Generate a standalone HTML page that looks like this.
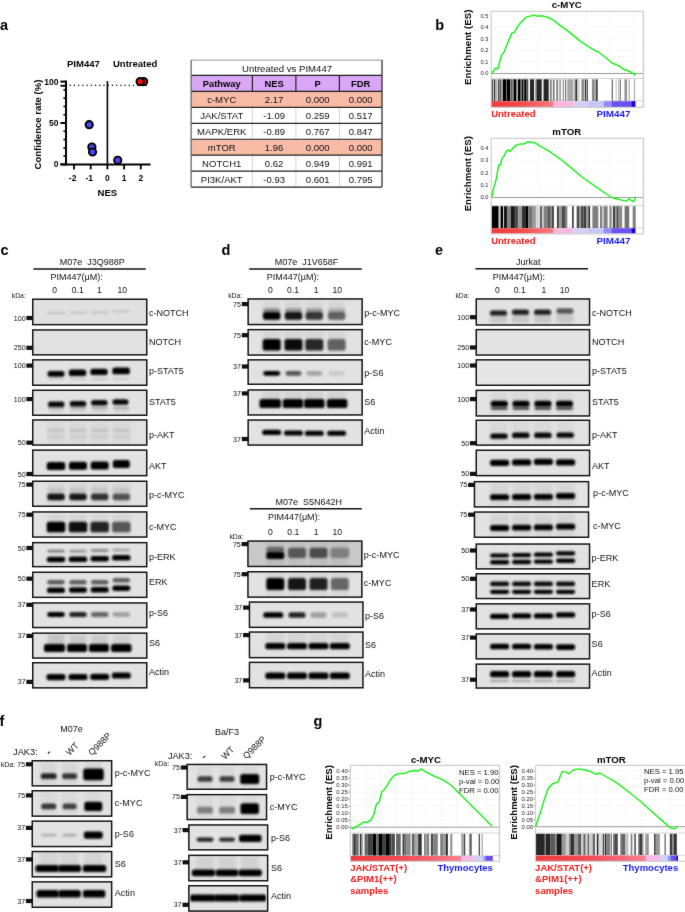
<!DOCTYPE html>
<html><head><meta charset="utf-8"><style>
html,body{margin:0;padding:0;background:#fff;}
svg{display:block;font-family:"Liberation Sans", sans-serif;will-change:transform;}
</style></head><body>
<svg width="685" height="912" viewBox="0 0 685 912">
<defs>
<filter id="b1" x="-50%" y="-100%" width="200%" height="300%"><feGaussianBlur stdDeviation="0.8"/></filter>
<filter id="b2" x="-50%" y="-100%" width="200%" height="300%"><feGaussianBlur stdDeviation="1.1"/></filter>
<filter id="b3" x="-50%" y="-100%" width="200%" height="300%"><feGaussianBlur stdDeviation="1.8"/></filter>
<filter id="b4" x="-50%" y="-100%" width="200%" height="300%"><feGaussianBlur stdDeviation="2.6"/></filter>
<linearGradient id="gb" gradientUnits="userSpaceOnUse" x1="491.2" y1="0" x2="553.6" y2="0"><stop offset="0" stop-color="#f03a3a"/><stop offset="0.45" stop-color="#f24a4a"/><stop offset="1" stop-color="#f87a7e"/></linearGradient>
<linearGradient id="gg1" gradientUnits="userSpaceOnUse" x1="350.3" y1="0" x2="461.3" y2="0"><stop offset="0" stop-color="#f03a3a"/><stop offset="0.5" stop-color="#f24c56"/><stop offset="0.8" stop-color="#f56878"/><stop offset="1" stop-color="#f88090"/></linearGradient>
<linearGradient id="gg2" gradientUnits="userSpaceOnUse" x1="535.5" y1="0" x2="645.9" y2="0"><stop offset="0" stop-color="#f03a3a"/><stop offset="0.5" stop-color="#f24c56"/><stop offset="0.8" stop-color="#f56878"/><stop offset="1" stop-color="#f88090"/></linearGradient>
<filter id="gblur" x="0" y="0" width="685" height="912" filterUnits="userSpaceOnUse" color-interpolation-filters="sRGB"><feConvolveMatrix order="3" kernelMatrix="0.00524 0.06192 0.00524 0.06192 0.73137 0.06192 0.00524 0.06192 0.00524" divisor="1" edgeMode="duplicate"/></filter>
</defs>
<g filter="url(#gblur)"><rect x="0" y="0" width="685" height="912" fill="#fff"/>
<text x="0.00" y="30.20" font-size="14.5" font-weight="bold" text-anchor="start" fill="#000" >a</text>
<text x="435.20" y="29.90" font-size="14.5" font-weight="bold" text-anchor="start" fill="#000" >b</text>
<text x="0.60" y="254.60" font-size="14.5" font-weight="bold" text-anchor="start" fill="#000" >c</text>
<text x="221.50" y="254.70" font-size="14.5" font-weight="bold" text-anchor="start" fill="#000" >d</text>
<text x="435.00" y="254.90" font-size="14.5" font-weight="bold" text-anchor="start" fill="#000" >e</text>
<text x="-0.50" y="725.90" font-size="14.5" font-weight="bold" text-anchor="start" fill="#000" >f</text>
<text x="313.60" y="725.60" font-size="14.5" font-weight="bold" text-anchor="start" fill="#000" >g</text>
<line x1="66.00" y1="80.50" x2="66.00" y2="165.40" stroke="#000" stroke-width="2" />
<line x1="60.40" y1="164.40" x2="150.50" y2="164.40" stroke="#000" stroke-width="2" />
<line x1="107.40" y1="81.00" x2="107.40" y2="164.40" stroke="#000" stroke-width="1.6" />
<line x1="60.40" y1="164.40" x2="66.00" y2="164.40" stroke="#000" stroke-width="2" />
<line x1="63.40" y1="156.12" x2="66.00" y2="156.12" stroke="#000" stroke-width="1.6" />
<line x1="63.40" y1="147.84" x2="66.00" y2="147.84" stroke="#000" stroke-width="1.6" />
<line x1="63.40" y1="139.56" x2="66.00" y2="139.56" stroke="#000" stroke-width="1.6" />
<line x1="63.40" y1="131.28" x2="66.00" y2="131.28" stroke="#000" stroke-width="1.6" />
<line x1="60.40" y1="123.00" x2="66.00" y2="123.00" stroke="#000" stroke-width="2" />
<line x1="63.40" y1="114.72" x2="66.00" y2="114.72" stroke="#000" stroke-width="1.6" />
<line x1="63.40" y1="106.44" x2="66.00" y2="106.44" stroke="#000" stroke-width="1.6" />
<line x1="63.40" y1="98.16" x2="66.00" y2="98.16" stroke="#000" stroke-width="1.6" />
<line x1="63.40" y1="89.88" x2="66.00" y2="89.88" stroke="#000" stroke-width="1.6" />
<line x1="60.40" y1="81.60" x2="66.00" y2="81.60" stroke="#000" stroke-width="2" />
<line x1="74.00" y1="164.40" x2="74.00" y2="169.40" stroke="#000" stroke-width="1.8" />
<line x1="90.70" y1="164.40" x2="90.70" y2="169.40" stroke="#000" stroke-width="1.8" />
<line x1="107.40" y1="164.40" x2="107.40" y2="169.40" stroke="#000" stroke-width="1.8" />
<line x1="124.10" y1="164.40" x2="124.10" y2="169.40" stroke="#000" stroke-width="1.8" />
<line x1="140.80" y1="164.40" x2="140.80" y2="169.40" stroke="#000" stroke-width="1.8" />
<line x1="69.6" y1="85.4" x2="147" y2="85.4" stroke="#000" stroke-width="1.4" stroke-dasharray="1.25 2.97"/>
<line x1="60.40" y1="85.80" x2="66.00" y2="85.80" stroke="#000" stroke-width="1.8" />
<text x="58.50" y="167.40" font-size="8.5" font-weight="bold" text-anchor="end" fill="#000" >0</text>
<text x="58.50" y="126.00" font-size="8.5" font-weight="bold" text-anchor="end" fill="#000" >50</text>
<text x="58.50" y="84.60" font-size="8.5" font-weight="bold" text-anchor="end" fill="#000" >100</text>
<text x="72.60" y="181.20" font-size="8.5" font-weight="bold" text-anchor="middle" fill="#000" >-2</text>
<text x="89.30" y="181.20" font-size="8.5" font-weight="bold" text-anchor="middle" fill="#000" >-1</text>
<text x="107.40" y="181.20" font-size="8.5" font-weight="bold" text-anchor="middle" fill="#000" >0</text>
<text x="124.10" y="181.20" font-size="8.5" font-weight="bold" text-anchor="middle" fill="#000" >1</text>
<text x="140.80" y="181.20" font-size="8.5" font-weight="bold" text-anchor="middle" fill="#000" >2</text>
<text x="107.40" y="195.60" font-size="9.6" font-weight="bold" text-anchor="middle" fill="#000" >NES</text>
<text x="67.00" y="67.00" font-size="9.5" font-weight="bold" text-anchor="start" fill="#000" >PIM447</text>
<text x="113.00" y="67.00" font-size="9.5" font-weight="bold" text-anchor="start" fill="#000" >Untreated</text>
<text x="0" y="0" font-size="9.6" font-weight="bold" text-anchor="middle" transform="translate(41.3,124.5) rotate(-90)">Confidence rate (%)</text>
<circle cx="89.20" cy="124.66" r="3.65" fill="#4646f6" stroke="#000" stroke-width="1.9"/>
<circle cx="91.87" cy="147.01" r="3.65" fill="#4646f6" stroke="#000" stroke-width="1.9"/>
<circle cx="92.54" cy="151.98" r="3.65" fill="#4646f6" stroke="#000" stroke-width="1.9"/>
<circle cx="117.75" cy="160.26" r="3.65" fill="#4646f6" stroke="#000" stroke-width="1.9"/>
<circle cx="143.64" cy="81.60" r="3.65" fill="#f01010" stroke="#000" stroke-width="1.9"/>
<circle cx="140.13" cy="81.60" r="3.65" fill="#f01010" stroke="#000" stroke-width="1.9"/>
<rect x="191.10" y="60.10" width="190.90" height="127.00" fill="#fff" />
<rect x="191.10" y="75.40" width="190.90" height="16.00" fill="#daa6f6" />
<rect x="191.10" y="91.40" width="190.90" height="15.95" fill="#f8bba6" />
<rect x="191.10" y="139.25" width="190.90" height="15.95" fill="#f8bba6" />
<line x1="252.40" y1="107.35" x2="252.40" y2="123.30" stroke="#d4d4d4" stroke-width="1" />
<line x1="252.40" y1="123.30" x2="252.40" y2="139.25" stroke="#d4d4d4" stroke-width="1" />
<line x1="252.40" y1="155.20" x2="252.40" y2="171.15" stroke="#d4d4d4" stroke-width="1" />
<line x1="252.40" y1="171.15" x2="252.40" y2="187.10" stroke="#d4d4d4" stroke-width="1" />
<line x1="295.90" y1="107.35" x2="295.90" y2="123.30" stroke="#d4d4d4" stroke-width="1" />
<line x1="295.90" y1="123.30" x2="295.90" y2="139.25" stroke="#d4d4d4" stroke-width="1" />
<line x1="295.90" y1="155.20" x2="295.90" y2="171.15" stroke="#d4d4d4" stroke-width="1" />
<line x1="295.90" y1="171.15" x2="295.90" y2="187.10" stroke="#d4d4d4" stroke-width="1" />
<line x1="339.40" y1="107.35" x2="339.40" y2="123.30" stroke="#d4d4d4" stroke-width="1" />
<line x1="339.40" y1="123.30" x2="339.40" y2="139.25" stroke="#d4d4d4" stroke-width="1" />
<line x1="339.40" y1="155.20" x2="339.40" y2="171.15" stroke="#d4d4d4" stroke-width="1" />
<line x1="339.40" y1="171.15" x2="339.40" y2="187.10" stroke="#d4d4d4" stroke-width="1" />
<line x1="252.40" y1="75.40" x2="252.40" y2="91.40" stroke="#222" stroke-width="1.2" />
<line x1="295.90" y1="75.40" x2="295.90" y2="91.40" stroke="#222" stroke-width="1.2" />
<line x1="339.40" y1="75.40" x2="339.40" y2="91.40" stroke="#222" stroke-width="1.2" />
<line x1="191.10" y1="60.10" x2="382.00" y2="60.10" stroke="#aaa" stroke-width="1.2" />
<line x1="191.10" y1="75.40" x2="382.00" y2="75.40" stroke="#222" stroke-width="1.2" />
<line x1="191.10" y1="91.40" x2="382.00" y2="91.40" stroke="#222" stroke-width="1.2" />
<line x1="191.10" y1="107.35" x2="382.00" y2="107.35" stroke="#222" stroke-width="1.2" />
<line x1="191.10" y1="123.30" x2="382.00" y2="123.30" stroke="#222" stroke-width="1.2" />
<line x1="191.10" y1="139.25" x2="382.00" y2="139.25" stroke="#222" stroke-width="1.2" />
<line x1="191.10" y1="155.20" x2="382.00" y2="155.20" stroke="#222" stroke-width="1.2" />
<line x1="191.10" y1="171.15" x2="382.00" y2="171.15" stroke="#222" stroke-width="1.2" />
<line x1="191.10" y1="187.10" x2="382.00" y2="187.10" stroke="#222" stroke-width="1.2" />
<line x1="191.10" y1="60.10" x2="191.10" y2="187.10" stroke="#666" stroke-width="1.3" />
<line x1="382.00" y1="60.10" x2="382.00" y2="187.10" stroke="#333" stroke-width="1.3" />
<text x="287.05" y="71.90" font-size="9.6" text-anchor="middle" fill="#111" >Untreated vs PIM447</text>
<text x="221.75" y="87.40" font-size="9.35" font-weight="bold" text-anchor="middle" fill="#000" >Pathway</text>
<text x="274.15" y="87.40" font-size="9.35" font-weight="bold" text-anchor="middle" fill="#000" >NES</text>
<text x="317.65" y="87.40" font-size="9.35" font-weight="bold" text-anchor="middle" fill="#000" >P</text>
<text x="360.70" y="87.40" font-size="9.35" font-weight="bold" text-anchor="middle" fill="#000" >FDR</text>
<text x="221.75" y="103.40" font-size="9.55" text-anchor="middle" fill="#111" >c-MYC</text>
<text x="274.15" y="103.40" font-size="9.55" text-anchor="middle" fill="#111" >2.17</text>
<text x="317.65" y="103.40" font-size="9.55" text-anchor="middle" fill="#111" >0.000</text>
<text x="360.70" y="103.40" font-size="9.55" text-anchor="middle" fill="#111" >0.000</text>
<text x="221.75" y="119.35" font-size="9.55" text-anchor="middle" fill="#111" >JAK/STAT</text>
<text x="274.15" y="119.35" font-size="9.55" text-anchor="middle" fill="#111" >-1.09</text>
<text x="317.65" y="119.35" font-size="9.55" text-anchor="middle" fill="#111" >0.259</text>
<text x="360.70" y="119.35" font-size="9.55" text-anchor="middle" fill="#111" >0.517</text>
<text x="221.75" y="135.30" font-size="9.55" text-anchor="middle" fill="#111" >MAPK/ERK</text>
<text x="274.15" y="135.30" font-size="9.55" text-anchor="middle" fill="#111" >-0.89</text>
<text x="317.65" y="135.30" font-size="9.55" text-anchor="middle" fill="#111" >0.767</text>
<text x="360.70" y="135.30" font-size="9.55" text-anchor="middle" fill="#111" >0.847</text>
<text x="221.75" y="151.25" font-size="9.55" text-anchor="middle" fill="#111" >mTOR</text>
<text x="274.15" y="151.25" font-size="9.55" text-anchor="middle" fill="#111" >1.96</text>
<text x="317.65" y="151.25" font-size="9.55" text-anchor="middle" fill="#111" >0.000</text>
<text x="360.70" y="151.25" font-size="9.55" text-anchor="middle" fill="#111" >0.000</text>
<text x="221.75" y="167.20" font-size="9.55" text-anchor="middle" fill="#111" >NOTCH1</text>
<text x="274.15" y="167.20" font-size="9.55" text-anchor="middle" fill="#111" >0.62</text>
<text x="317.65" y="167.20" font-size="9.55" text-anchor="middle" fill="#111" >0.949</text>
<text x="360.70" y="167.20" font-size="9.55" text-anchor="middle" fill="#111" >0.991</text>
<text x="221.75" y="183.15" font-size="9.55" text-anchor="middle" fill="#111" >PI3K/AKT</text>
<text x="274.15" y="183.15" font-size="9.55" text-anchor="middle" fill="#111" >-0.93</text>
<text x="317.65" y="183.15" font-size="9.55" text-anchor="middle" fill="#111" >0.601</text>
<text x="360.70" y="183.15" font-size="9.55" text-anchor="middle" fill="#111" >0.795</text>
<rect x="491.20" y="11.30" width="152.20" height="96.00" fill="#fff" />
<line x1="491.20" y1="61.96" x2="643.40" y2="61.96" stroke="#eeeeee" stroke-width="0.8" stroke-dasharray="1 1"/>
<line x1="491.20" y1="50.42" x2="643.40" y2="50.42" stroke="#eeeeee" stroke-width="0.8" stroke-dasharray="1 1"/>
<line x1="491.20" y1="38.88" x2="643.40" y2="38.88" stroke="#eeeeee" stroke-width="0.8" stroke-dasharray="1 1"/>
<line x1="491.20" y1="27.34" x2="643.40" y2="27.34" stroke="#eeeeee" stroke-width="0.8" stroke-dasharray="1 1"/>
<line x1="491.20" y1="15.80" x2="643.40" y2="15.80" stroke="#eeeeee" stroke-width="0.8" stroke-dasharray="1 1"/>
<line x1="515.30" y1="11.30" x2="515.30" y2="78.30" stroke="#eeeeee" stroke-width="0.8" stroke-dasharray="1 1"/>
<line x1="538.50" y1="11.30" x2="538.50" y2="78.30" stroke="#eeeeee" stroke-width="0.8" stroke-dasharray="1 1"/>
<line x1="562.20" y1="11.30" x2="562.20" y2="78.30" stroke="#eeeeee" stroke-width="0.8" stroke-dasharray="1 1"/>
<line x1="586.50" y1="11.30" x2="586.50" y2="78.30" stroke="#eeeeee" stroke-width="0.8" stroke-dasharray="1 1"/>
<line x1="610.30" y1="11.30" x2="610.30" y2="78.30" stroke="#eeeeee" stroke-width="0.8" stroke-dasharray="1 1"/>
<line x1="634.20" y1="11.30" x2="634.20" y2="78.30" stroke="#eeeeee" stroke-width="0.8" stroke-dasharray="1 1"/>
<line x1="491.20" y1="73.50" x2="643.40" y2="73.50" stroke="#9a9a9a" stroke-width="1" />
<line x1="491.20" y1="78.50" x2="643.40" y2="78.50" stroke="#d4d4d4" stroke-width="1" />
<line x1="491.20" y1="100.90" x2="643.40" y2="100.90" stroke="#d4d4d4" stroke-width="1" />
<rect x="491.50" y="79.30" width="1.20" height="21.70" fill="rgb(0,0,0)" />
<rect x="493.80" y="79.30" width="1.00" height="21.70" fill="rgb(0,0,0)" />
<rect x="495.00" y="79.30" width="2.30" height="21.70" fill="rgb(178,178,178)" />
<rect x="497.90" y="79.30" width="1.20" height="21.70" fill="rgb(77,77,77)" />
<rect x="499.10" y="79.30" width="1.20" height="21.70" fill="rgb(128,128,128)" />
<rect x="500.30" y="79.30" width="1.10" height="21.70" fill="rgb(38,38,38)" />
<rect x="502.60" y="79.30" width="3.50" height="21.70" fill="rgb(0,0,0)" />
<rect x="506.10" y="79.30" width="0.60" height="21.70" fill="rgb(128,128,128)" />
<rect x="506.70" y="79.30" width="3.50" height="21.70" fill="rgb(0,0,0)" />
<rect x="510.20" y="79.30" width="1.20" height="21.70" fill="rgb(128,128,128)" />
<rect x="511.40" y="79.30" width="1.10" height="21.70" fill="rgb(25,25,25)" />
<rect x="512.50" y="79.30" width="1.20" height="21.70" fill="rgb(128,128,128)" />
<rect x="513.70" y="79.30" width="2.30" height="21.70" fill="rgb(0,0,0)" />
<rect x="516.00" y="79.30" width="1.20" height="21.70" fill="rgb(128,128,128)" />
<rect x="517.80" y="79.30" width="2.90" height="21.70" fill="rgb(0,0,0)" />
<rect x="520.70" y="79.30" width="1.20" height="21.70" fill="rgb(128,128,128)" />
<rect x="521.90" y="79.30" width="1.10" height="21.70" fill="rgb(0,0,0)" />
<rect x="523.00" y="79.30" width="1.20" height="21.70" fill="rgb(128,128,128)" />
<rect x="524.20" y="79.30" width="2.30" height="21.70" fill="rgb(0,0,0)" />
<rect x="526.50" y="79.30" width="1.80" height="21.70" fill="rgb(77,77,77)" />
<rect x="530.00" y="79.30" width="4.10" height="21.70" fill="rgb(38,38,38)" />
<rect x="535.30" y="79.30" width="1.20" height="21.70" fill="rgb(128,128,128)" />
<rect x="536.50" y="79.30" width="5.20" height="21.70" fill="rgb(38,38,38)" />
<rect x="543.50" y="79.30" width="5.20" height="21.70" fill="rgb(38,38,38)" />
<rect x="549.90" y="79.30" width="1.80" height="21.70" fill="rgb(128,128,128)" />
<rect x="552.80" y="79.30" width="1.80" height="21.70" fill="rgb(128,128,128)" />
<rect x="556.30" y="79.30" width="1.80" height="21.70" fill="rgb(128,128,128)" />
<rect x="559.20" y="79.30" width="1.80" height="21.70" fill="rgb(166,166,166)" />
<rect x="562.70" y="79.30" width="1.20" height="21.70" fill="rgb(140,140,140)" />
<rect x="565.10" y="79.30" width="1.10" height="21.70" fill="rgb(102,102,102)" />
<rect x="567.30" y="79.30" width="4.70" height="21.70" fill="rgb(166,166,166)" />
<rect x="572.60" y="79.30" width="0.60" height="21.70" fill="rgb(51,51,51)" />
<rect x="574.40" y="79.30" width="0.60" height="21.70" fill="rgb(153,153,153)" />
<rect x="575.30" y="79.30" width="2.00" height="21.70" fill="rgb(51,51,51)" />
<rect x="577.50" y="79.30" width="2.00" height="21.70" fill="rgb(204,204,204)" />
<rect x="581.40" y="79.30" width="2.90" height="21.70" fill="rgb(140,140,140)" />
<rect x="584.90" y="79.30" width="1.10" height="21.70" fill="rgb(51,51,51)" />
<rect x="586.60" y="79.30" width="1.20" height="21.70" fill="rgb(51,51,51)" />
<rect x="591.90" y="79.30" width="2.90" height="21.70" fill="rgb(140,140,140)" />
<rect x="595.60" y="79.30" width="2.10" height="21.70" fill="rgb(64,64,64)" />
<rect x="611.70" y="79.30" width="1.20" height="21.70" fill="rgb(102,102,102)" />
<rect x="615.80" y="79.30" width="0.60" height="21.70" fill="rgb(153,153,153)" />
<rect x="618.20" y="79.30" width="0.60" height="21.70" fill="rgb(153,153,153)" />
<rect x="619.70" y="79.30" width="1.10" height="21.70" fill="rgb(102,102,102)" />
<rect x="624.00" y="79.30" width="0.60" height="21.70" fill="rgb(153,153,153)" />
<rect x="625.20" y="79.30" width="1.70" height="21.70" fill="rgb(128,128,128)" />
<rect x="628.60" y="79.30" width="1.20" height="21.70" fill="rgb(166,166,166)" />
<rect x="633.90" y="79.30" width="1.10" height="21.70" fill="rgb(166,166,166)" />
<rect x="490.90" y="101.20" width="62.70" height="5.90" fill="url(#gb)" />
<rect x="553.60" y="101.20" width="20.00" height="5.90" fill="#f8b8e0" />
<rect x="573.60" y="101.20" width="14.40" height="5.90" fill="#d2d2f6" />
<rect x="588.00" y="101.20" width="15.50" height="5.90" fill="#c9c6f6" />
<rect x="603.50" y="101.20" width="7.80" height="5.90" fill="#8890f8" />
<rect x="611.30" y="101.20" width="20.00" height="5.90" fill="#6a50f0" />
<rect x="631.30" y="101.20" width="4.20" height="5.90" fill="#2000d0" />
<line x1="491.20" y1="11.30" x2="643.40" y2="11.30" stroke="#cfcfcf" stroke-width="1.2" />
<line x1="491.20" y1="11.30" x2="491.20" y2="107.30" stroke="#cfcfcf" stroke-width="1.2" />
<line x1="491.20" y1="107.30" x2="643.40" y2="107.30" stroke="#cfcfcf" stroke-width="1.2" />
<line x1="643.40" y1="11.30" x2="643.40" y2="107.30" stroke="#cfcfcf" stroke-width="1.5" />
<polyline points="491.7,73.6 493.4,71.0 495.2,68.3 497.8,68.7 499.6,62.2 501.7,54.3 503.4,53.4 506.6,45.5 509.2,39.4 511.8,33.3 514.5,32.4 517.1,27.2 520.6,22.8 524.1,19.3 526.7,17.0 530.2,16.1 534.1,14.9 537.2,16.3 541.6,15.8 546.9,17.0 552.1,19.3 560.0,25.4 569.1,31.9 580.1,41.1 592.8,49.3 598.3,52.0 605.6,57.5 612.0,63.0 618.4,65.7 623.9,69.3 630.3,71.7 634.8,74.8 635.4,73.0" fill="none" stroke="#1cf01c" stroke-width="1.45" stroke-linejoin="round"/>
<text x="488.50" y="75.38" font-size="5.7" text-anchor="end" fill="#222" >0.0</text>
<text x="488.50" y="63.84" font-size="5.7" text-anchor="end" fill="#222" >0.1</text>
<text x="488.50" y="52.30" font-size="5.7" text-anchor="end" fill="#222" >0.2</text>
<text x="488.50" y="40.76" font-size="5.7" text-anchor="end" fill="#222" >0.3</text>
<text x="488.50" y="29.22" font-size="5.7" text-anchor="end" fill="#222" >0.4</text>
<text x="488.50" y="17.68" font-size="5.7" text-anchor="end" fill="#222" >0.5</text>
<text x="566.80" y="8.30" font-size="9.7" font-weight="bold" text-anchor="middle" fill="#000" >c-MYC</text>
<text x="0" y="0" font-size="9.7" font-weight="bold" text-anchor="middle" transform="translate(471.40,47.30) rotate(-90)">Enrichment (ES)</text>
<text x="491.20" y="117.00" font-size="9.5" font-weight="bold" text-anchor="start" fill="#f01a1a" >Untreated</text>
<text x="630.50" y="116.80" font-size="9.9" font-weight="bold" text-anchor="end" fill="#1a1af0" >PIM447</text>
<rect x="491.20" y="138.40" width="152.20" height="95.40" fill="#fff" />
<line x1="491.20" y1="185.20" x2="643.40" y2="185.20" stroke="#eeeeee" stroke-width="0.8" stroke-dasharray="1 1"/>
<line x1="491.20" y1="172.90" x2="643.40" y2="172.90" stroke="#eeeeee" stroke-width="0.8" stroke-dasharray="1 1"/>
<line x1="491.20" y1="160.60" x2="643.40" y2="160.60" stroke="#eeeeee" stroke-width="0.8" stroke-dasharray="1 1"/>
<line x1="491.20" y1="148.30" x2="643.40" y2="148.30" stroke="#eeeeee" stroke-width="0.8" stroke-dasharray="1 1"/>
<line x1="515.30" y1="138.40" x2="515.30" y2="205.20" stroke="#eeeeee" stroke-width="0.8" stroke-dasharray="1 1"/>
<line x1="538.50" y1="138.40" x2="538.50" y2="205.20" stroke="#eeeeee" stroke-width="0.8" stroke-dasharray="1 1"/>
<line x1="562.20" y1="138.40" x2="562.20" y2="205.20" stroke="#eeeeee" stroke-width="0.8" stroke-dasharray="1 1"/>
<line x1="586.50" y1="138.40" x2="586.50" y2="205.20" stroke="#eeeeee" stroke-width="0.8" stroke-dasharray="1 1"/>
<line x1="610.30" y1="138.40" x2="610.30" y2="205.20" stroke="#eeeeee" stroke-width="0.8" stroke-dasharray="1 1"/>
<line x1="634.20" y1="138.40" x2="634.20" y2="205.20" stroke="#eeeeee" stroke-width="0.8" stroke-dasharray="1 1"/>
<line x1="491.20" y1="197.50" x2="643.40" y2="197.50" stroke="#9a9a9a" stroke-width="1" />
<line x1="491.20" y1="205.40" x2="643.40" y2="205.40" stroke="#d4d4d4" stroke-width="1" />
<line x1="491.20" y1="227.90" x2="643.40" y2="227.90" stroke="#d4d4d4" stroke-width="1" />
<rect x="491.50" y="206.20" width="7.20" height="21.80" fill="rgb(0,0,0)" />
<rect x="498.70" y="206.20" width="1.90" height="21.80" fill="rgb(204,204,204)" />
<rect x="500.60" y="206.20" width="2.40" height="21.80" fill="rgb(0,0,0)" />
<rect x="503.80" y="206.20" width="3.50" height="21.80" fill="rgb(25,25,25)" />
<rect x="507.30" y="206.20" width="3.50" height="21.80" fill="rgb(128,128,128)" />
<rect x="510.80" y="206.20" width="4.10" height="21.80" fill="rgb(25,25,25)" />
<rect x="514.90" y="206.20" width="3.50" height="21.80" fill="rgb(77,77,77)" />
<rect x="518.40" y="206.20" width="3.50" height="21.80" fill="rgb(153,153,153)" />
<rect x="521.90" y="206.20" width="4.10" height="21.80" fill="rgb(51,51,51)" />
<rect x="526.00" y="206.20" width="2.30" height="21.80" fill="rgb(0,0,0)" />
<rect x="528.30" y="206.20" width="3.70" height="21.80" fill="rgb(115,115,115)" />
<rect x="532.00" y="206.20" width="3.90" height="21.80" fill="rgb(153,153,153)" />
<rect x="535.90" y="206.20" width="4.10" height="21.80" fill="rgb(217,217,217)" />
<rect x="540.00" y="206.20" width="2.30" height="21.80" fill="rgb(102,102,102)" />
<rect x="543.50" y="206.20" width="4.10" height="21.80" fill="rgb(128,128,128)" />
<rect x="547.60" y="206.20" width="2.30" height="21.80" fill="rgb(77,77,77)" />
<rect x="549.90" y="206.20" width="1.80" height="21.80" fill="rgb(128,128,128)" />
<rect x="551.70" y="206.20" width="2.30" height="21.80" fill="rgb(77,77,77)" />
<rect x="556.90" y="206.20" width="2.30" height="21.80" fill="rgb(77,77,77)" />
<rect x="559.20" y="206.20" width="2.40" height="21.80" fill="rgb(153,153,153)" />
<rect x="561.60" y="206.20" width="3.40" height="21.80" fill="rgb(77,77,77)" />
<rect x="565.00" y="206.20" width="2.30" height="21.80" fill="rgb(128,128,128)" />
<rect x="572.00" y="206.20" width="1.80" height="21.80" fill="rgb(77,77,77)" />
<rect x="576.70" y="206.20" width="2.90" height="21.80" fill="rgb(77,77,77)" />
<rect x="579.60" y="206.20" width="1.20" height="21.80" fill="rgb(153,153,153)" />
<rect x="580.80" y="206.20" width="2.90" height="21.80" fill="rgb(77,77,77)" />
<rect x="583.70" y="206.20" width="2.30" height="21.80" fill="rgb(64,64,64)" />
<rect x="586.00" y="206.20" width="2.40" height="21.80" fill="rgb(153,153,153)" />
<rect x="588.40" y="206.20" width="1.70" height="21.80" fill="rgb(51,51,51)" />
<rect x="592.40" y="206.20" width="5.90" height="21.80" fill="rgb(128,128,128)" />
<rect x="600.00" y="206.20" width="2.40" height="21.80" fill="rgb(128,128,128)" />
<rect x="603.50" y="206.20" width="4.10" height="21.80" fill="rgb(128,128,128)" />
<rect x="609.40" y="206.20" width="2.30" height="21.80" fill="rgb(140,140,140)" />
<rect x="612.90" y="206.20" width="2.30" height="21.80" fill="rgb(64,64,64)" />
<rect x="615.20" y="206.20" width="1.20" height="21.80" fill="rgb(153,153,153)" />
<rect x="616.40" y="206.20" width="2.30" height="21.80" fill="rgb(77,77,77)" />
<rect x="618.70" y="206.20" width="3.50" height="21.80" fill="rgb(140,140,140)" />
<rect x="624.60" y="206.20" width="4.60" height="21.80" fill="rgb(115,115,115)" />
<rect x="632.70" y="206.20" width="3.00" height="21.80" fill="rgb(128,128,128)" />
<rect x="490.90" y="228.20" width="62.70" height="5.60" fill="url(#gb)" />
<rect x="553.60" y="228.20" width="20.00" height="5.60" fill="#f8b8e0" />
<rect x="573.60" y="228.20" width="14.40" height="5.60" fill="#d2d2f6" />
<rect x="588.00" y="228.20" width="15.50" height="5.60" fill="#c9c6f6" />
<rect x="603.50" y="228.20" width="7.80" height="5.60" fill="#8890f8" />
<rect x="611.30" y="228.20" width="20.00" height="5.60" fill="#6a50f0" />
<rect x="631.30" y="228.20" width="4.20" height="5.60" fill="#2000d0" />
<line x1="491.20" y1="138.40" x2="643.40" y2="138.40" stroke="#cfcfcf" stroke-width="1.2" />
<line x1="491.20" y1="138.40" x2="491.20" y2="233.80" stroke="#cfcfcf" stroke-width="1.2" />
<line x1="491.20" y1="233.80" x2="643.40" y2="233.80" stroke="#cfcfcf" stroke-width="1.2" />
<line x1="643.40" y1="138.40" x2="643.40" y2="233.80" stroke="#cfcfcf" stroke-width="1.5" />
<polyline points="491.7,197.3 493.4,188.6 496.1,179.8 498.7,164.9 500.4,164.9 502.2,157.9 503.9,156.2 506.6,150.9 508.3,150.0 510.1,151.4 512.7,148.3 516.2,145.1 520.6,143.9 524.1,143.9 527.6,141.8 531.1,142.2 535.5,143.0 539.9,146.2 548.6,150.9 560.0,158.8 569.1,166.1 581.9,177.0 596.5,187.1 605.6,193.5 612.9,198.0 618.4,199.3 625.7,201.1 629.3,198.9 633.0,201.7 634.8,199.9 635.7,196.8" fill="none" stroke="#1cf01c" stroke-width="1.45" stroke-linejoin="round"/>
<text x="488.50" y="199.38" font-size="5.7" text-anchor="end" fill="#222" >0.0</text>
<text x="488.50" y="187.08" font-size="5.7" text-anchor="end" fill="#222" >0.1</text>
<text x="488.50" y="174.78" font-size="5.7" text-anchor="end" fill="#222" >0.2</text>
<text x="488.50" y="162.48" font-size="5.7" text-anchor="end" fill="#222" >0.3</text>
<text x="488.50" y="150.18" font-size="5.7" text-anchor="end" fill="#222" >0.4</text>
<text x="566.80" y="135.00" font-size="9.7" font-weight="bold" text-anchor="middle" fill="#000" >mTOR</text>
<text x="0" y="0" font-size="9.7" font-weight="bold" text-anchor="middle" transform="translate(471.40,173.70) rotate(-90)">Enrichment (ES)</text>
<text x="491.20" y="243.80" font-size="9.5" font-weight="bold" text-anchor="start" fill="#f01a1a" >Untreated</text>
<text x="630.50" y="243.60" font-size="9.9" font-weight="bold" text-anchor="end" fill="#1a1af0" >PIM447</text>
<rect x="350.30" y="765.40" width="149.20" height="95.90" fill="#fff" />
<line x1="350.30" y1="820.19" x2="499.50" y2="820.19" stroke="#eeeeee" stroke-width="0.8" stroke-dasharray="1 1"/>
<line x1="350.30" y1="813.18" x2="499.50" y2="813.18" stroke="#eeeeee" stroke-width="0.8" stroke-dasharray="1 1"/>
<line x1="350.30" y1="806.17" x2="499.50" y2="806.17" stroke="#eeeeee" stroke-width="0.8" stroke-dasharray="1 1"/>
<line x1="350.30" y1="799.16" x2="499.50" y2="799.16" stroke="#eeeeee" stroke-width="0.8" stroke-dasharray="1 1"/>
<line x1="350.30" y1="792.15" x2="499.50" y2="792.15" stroke="#eeeeee" stroke-width="0.8" stroke-dasharray="1 1"/>
<line x1="350.30" y1="785.14" x2="499.50" y2="785.14" stroke="#eeeeee" stroke-width="0.8" stroke-dasharray="1 1"/>
<line x1="350.30" y1="778.13" x2="499.50" y2="778.13" stroke="#eeeeee" stroke-width="0.8" stroke-dasharray="1 1"/>
<line x1="350.30" y1="771.12" x2="499.50" y2="771.12" stroke="#eeeeee" stroke-width="0.8" stroke-dasharray="1 1"/>
<line x1="365.50" y1="765.40" x2="365.50" y2="832.80" stroke="#eeeeee" stroke-width="0.8" stroke-dasharray="1 1"/>
<line x1="380.70" y1="765.40" x2="380.70" y2="832.80" stroke="#eeeeee" stroke-width="0.8" stroke-dasharray="1 1"/>
<line x1="396.00" y1="765.40" x2="396.00" y2="832.80" stroke="#eeeeee" stroke-width="0.8" stroke-dasharray="1 1"/>
<line x1="411.30" y1="765.40" x2="411.30" y2="832.80" stroke="#eeeeee" stroke-width="0.8" stroke-dasharray="1 1"/>
<line x1="426.30" y1="765.40" x2="426.30" y2="832.80" stroke="#eeeeee" stroke-width="0.8" stroke-dasharray="1 1"/>
<line x1="441.50" y1="765.40" x2="441.50" y2="832.80" stroke="#eeeeee" stroke-width="0.8" stroke-dasharray="1 1"/>
<line x1="456.50" y1="765.40" x2="456.50" y2="832.80" stroke="#eeeeee" stroke-width="0.8" stroke-dasharray="1 1"/>
<line x1="472.20" y1="765.40" x2="472.20" y2="832.80" stroke="#eeeeee" stroke-width="0.8" stroke-dasharray="1 1"/>
<line x1="486.50" y1="765.40" x2="486.50" y2="832.80" stroke="#eeeeee" stroke-width="0.8" stroke-dasharray="1 1"/>
<line x1="350.30" y1="827.20" x2="499.50" y2="827.20" stroke="#9a9a9a" stroke-width="1" />
<line x1="350.30" y1="833.00" x2="499.50" y2="833.00" stroke="#d4d4d4" stroke-width="1" />
<line x1="350.30" y1="855.70" x2="499.50" y2="855.70" stroke="#d4d4d4" stroke-width="1" />
<rect x="352.30" y="833.80" width="1.70" height="21.70" fill="rgb(115,115,115)" />
<rect x="354.00" y="833.80" width="1.80" height="21.70" fill="rgb(51,51,51)" />
<rect x="355.80" y="833.80" width="2.90" height="21.70" fill="rgb(115,115,115)" />
<rect x="359.80" y="833.80" width="1.80" height="21.70" fill="rgb(51,51,51)" />
<rect x="361.60" y="833.80" width="1.20" height="21.70" fill="rgb(153,153,153)" />
<rect x="364.50" y="833.80" width="2.90" height="21.70" fill="rgb(102,102,102)" />
<rect x="367.40" y="833.80" width="5.30" height="21.70" fill="rgb(64,64,64)" />
<rect x="372.70" y="833.80" width="3.50" height="21.70" fill="rgb(0,0,0)" />
<rect x="376.20" y="833.80" width="2.30" height="21.70" fill="rgb(102,102,102)" />
<rect x="378.50" y="833.80" width="3.50" height="21.70" fill="rgb(0,0,0)" />
<rect x="382.00" y="833.80" width="3.50" height="21.70" fill="rgb(64,64,64)" />
<rect x="385.50" y="833.80" width="3.50" height="21.70" fill="rgb(0,0,0)" />
<rect x="389.00" y="833.80" width="2.40" height="21.70" fill="rgb(51,51,51)" />
<rect x="391.40" y="833.80" width="3.50" height="21.70" fill="rgb(77,77,77)" />
<rect x="396.10" y="833.80" width="4.60" height="21.70" fill="rgb(102,102,102)" />
<rect x="402.50" y="833.80" width="1.70" height="21.70" fill="rgb(64,64,64)" />
<rect x="404.20" y="833.80" width="2.40" height="21.70" fill="rgb(102,102,102)" />
<rect x="406.60" y="833.80" width="4.00" height="21.70" fill="rgb(140,140,140)" />
<rect x="411.80" y="833.80" width="2.90" height="21.70" fill="rgb(102,102,102)" />
<rect x="414.70" y="833.80" width="3.50" height="21.70" fill="rgb(166,166,166)" />
<rect x="418.20" y="833.80" width="3.50" height="21.70" fill="rgb(51,51,51)" />
<rect x="424.00" y="833.80" width="1.00" height="21.70" fill="rgb(128,128,128)" />
<rect x="425.00" y="833.80" width="1.80" height="21.70" fill="rgb(153,153,153)" />
<rect x="426.80" y="833.80" width="2.30" height="21.70" fill="rgb(128,128,128)" />
<rect x="430.80" y="833.80" width="2.40" height="21.70" fill="rgb(77,77,77)" />
<rect x="433.20" y="833.80" width="4.60" height="21.70" fill="rgb(128,128,128)" />
<rect x="440.20" y="833.80" width="3.50" height="21.70" fill="rgb(128,128,128)" />
<rect x="443.70" y="833.80" width="2.30" height="21.70" fill="rgb(153,153,153)" />
<rect x="446.00" y="833.80" width="1.80" height="21.70" fill="rgb(38,38,38)" />
<rect x="450.10" y="833.80" width="2.30" height="21.70" fill="rgb(153,153,153)" />
<rect x="461.20" y="833.80" width="1.80" height="21.70" fill="rgb(166,166,166)" />
<rect x="463.50" y="833.80" width="1.80" height="21.70" fill="rgb(77,77,77)" />
<rect x="468.80" y="833.80" width="1.20" height="21.70" fill="rgb(166,166,166)" />
<rect x="470.00" y="833.80" width="1.70" height="21.70" fill="rgb(89,89,89)" />
<rect x="478.70" y="833.80" width="1.20" height="21.70" fill="rgb(64,64,64)" />
<rect x="481.60" y="833.80" width="1.20" height="21.70" fill="rgb(166,166,166)" />
<rect x="350.30" y="856.00" width="111.00" height="5.20" fill="url(#gg1)" />
<rect x="461.30" y="856.00" width="12.30" height="5.20" fill="#f8b8e8" />
<rect x="473.60" y="856.00" width="9.90" height="5.20" fill="#d0d0f8" />
<rect x="483.50" y="856.00" width="2.20" height="5.20" fill="#8890f8" />
<rect x="485.70" y="856.00" width="5.60" height="5.20" fill="#6a50f0" />
<rect x="491.30" y="856.00" width="1.20" height="5.20" fill="#2000d0" />
<line x1="348.30" y1="827.20" x2="350.30" y2="827.20" stroke="#777" stroke-width="0.8" />
<line x1="348.30" y1="820.19" x2="350.30" y2="820.19" stroke="#777" stroke-width="0.8" />
<line x1="348.30" y1="813.18" x2="350.30" y2="813.18" stroke="#777" stroke-width="0.8" />
<line x1="348.30" y1="806.17" x2="350.30" y2="806.17" stroke="#777" stroke-width="0.8" />
<line x1="348.30" y1="799.16" x2="350.30" y2="799.16" stroke="#777" stroke-width="0.8" />
<line x1="348.30" y1="792.15" x2="350.30" y2="792.15" stroke="#777" stroke-width="0.8" />
<line x1="348.30" y1="785.14" x2="350.30" y2="785.14" stroke="#777" stroke-width="0.8" />
<line x1="348.30" y1="778.13" x2="350.30" y2="778.13" stroke="#777" stroke-width="0.8" />
<line x1="348.30" y1="771.12" x2="350.30" y2="771.12" stroke="#777" stroke-width="0.8" />
<line x1="350.30" y1="765.40" x2="499.50" y2="765.40" stroke="#cfcfcf" stroke-width="1.2" />
<line x1="350.30" y1="765.40" x2="350.30" y2="861.30" stroke="#cfcfcf" stroke-width="1.2" />
<line x1="350.30" y1="861.30" x2="499.50" y2="861.30" stroke="#cfcfcf" stroke-width="1.2" />
<line x1="499.50" y1="765.40" x2="499.50" y2="861.30" stroke="#cfcfcf" stroke-width="1.5" />
<polyline points="350.7,827.5 352.8,828.8 356.8,826.2 360.7,824.1 363.4,822.3 367.3,822.3 371.2,819.6 373.9,814.4 376.5,803.9 379.1,802.5 381.7,792.0 384.4,789.4 387.0,785.5 390.9,778.9 394.9,775.0 398.8,773.6 404.1,773.6 409.3,771.5 414.6,770.5 418.5,771.0 421.2,768.9 425.1,771.5 433.0,775.7 443.5,780.2 451.4,785.5 461.9,796.0 472.4,806.5 482.9,817.0 492.1,826.2" fill="none" stroke="#1cf01c" stroke-width="1.45" stroke-linejoin="round"/>
<text x="347.80" y="829.15" font-size="5.9" text-anchor="end" fill="#222" >0.00</text>
<text x="347.80" y="822.14" font-size="5.9" text-anchor="end" fill="#222" >0.05</text>
<text x="347.80" y="815.13" font-size="5.9" text-anchor="end" fill="#222" >0.10</text>
<text x="347.80" y="808.12" font-size="5.9" text-anchor="end" fill="#222" >0.15</text>
<text x="347.80" y="801.11" font-size="5.9" text-anchor="end" fill="#222" >0.20</text>
<text x="347.80" y="794.10" font-size="5.9" text-anchor="end" fill="#222" >0.25</text>
<text x="347.80" y="787.09" font-size="5.9" text-anchor="end" fill="#222" >0.30</text>
<text x="347.80" y="780.08" font-size="5.9" text-anchor="end" fill="#222" >0.35</text>
<text x="347.80" y="773.07" font-size="5.9" text-anchor="end" fill="#222" >0.40</text>
<text x="426.00" y="763.20" font-size="9.7" font-weight="bold" text-anchor="middle" fill="#000" >c-MYC</text>
<text x="0" y="0" font-size="9.6" font-weight="bold" text-anchor="middle" transform="translate(331.80,802.40) rotate(-90)">Enrichment (ES)</text>
<text x="459.00" y="774.90" font-size="7.7" text-anchor="start" fill="#111" >NES = 1.90</text>
<text x="459.00" y="783.90" font-size="7.7" text-anchor="start" fill="#111" >p-val = 0.00</text>
<text x="459.00" y="792.90" font-size="7.7" text-anchor="start" fill="#111" >FDR = 0.00</text>
<rect x="535.50" y="765.40" width="150.50" height="95.90" fill="#fff" />
<line x1="535.50" y1="819.79" x2="686.00" y2="819.79" stroke="#eeeeee" stroke-width="0.8" stroke-dasharray="1 1"/>
<line x1="535.50" y1="812.87" x2="686.00" y2="812.87" stroke="#eeeeee" stroke-width="0.8" stroke-dasharray="1 1"/>
<line x1="535.50" y1="805.96" x2="686.00" y2="805.96" stroke="#eeeeee" stroke-width="0.8" stroke-dasharray="1 1"/>
<line x1="535.50" y1="799.04" x2="686.00" y2="799.04" stroke="#eeeeee" stroke-width="0.8" stroke-dasharray="1 1"/>
<line x1="535.50" y1="792.12" x2="686.00" y2="792.12" stroke="#eeeeee" stroke-width="0.8" stroke-dasharray="1 1"/>
<line x1="535.50" y1="785.21" x2="686.00" y2="785.21" stroke="#eeeeee" stroke-width="0.8" stroke-dasharray="1 1"/>
<line x1="535.50" y1="778.30" x2="686.00" y2="778.30" stroke="#eeeeee" stroke-width="0.8" stroke-dasharray="1 1"/>
<line x1="535.50" y1="771.38" x2="686.00" y2="771.38" stroke="#eeeeee" stroke-width="0.8" stroke-dasharray="1 1"/>
<line x1="550.00" y1="765.40" x2="550.00" y2="832.80" stroke="#eeeeee" stroke-width="0.8" stroke-dasharray="1 1"/>
<line x1="565.00" y1="765.40" x2="565.00" y2="832.80" stroke="#eeeeee" stroke-width="0.8" stroke-dasharray="1 1"/>
<line x1="580.00" y1="765.40" x2="580.00" y2="832.80" stroke="#eeeeee" stroke-width="0.8" stroke-dasharray="1 1"/>
<line x1="596.00" y1="765.40" x2="596.00" y2="832.80" stroke="#eeeeee" stroke-width="0.8" stroke-dasharray="1 1"/>
<line x1="611.00" y1="765.40" x2="611.00" y2="832.80" stroke="#eeeeee" stroke-width="0.8" stroke-dasharray="1 1"/>
<line x1="626.00" y1="765.40" x2="626.00" y2="832.80" stroke="#eeeeee" stroke-width="0.8" stroke-dasharray="1 1"/>
<line x1="641.00" y1="765.40" x2="641.00" y2="832.80" stroke="#eeeeee" stroke-width="0.8" stroke-dasharray="1 1"/>
<line x1="656.00" y1="765.40" x2="656.00" y2="832.80" stroke="#eeeeee" stroke-width="0.8" stroke-dasharray="1 1"/>
<line x1="671.00" y1="765.40" x2="671.00" y2="832.80" stroke="#eeeeee" stroke-width="0.8" stroke-dasharray="1 1"/>
<line x1="535.50" y1="826.70" x2="686.00" y2="826.70" stroke="#9a9a9a" stroke-width="1" />
<line x1="535.50" y1="833.00" x2="686.00" y2="833.00" stroke="#d4d4d4" stroke-width="1" />
<line x1="535.50" y1="855.20" x2="686.00" y2="855.20" stroke="#d4d4d4" stroke-width="1" />
<rect x="535.50" y="833.80" width="9.30" height="21.20" fill="rgb(38,38,38)" />
<rect x="544.80" y="833.80" width="1.20" height="21.20" fill="rgb(128,128,128)" />
<rect x="546.00" y="833.80" width="4.10" height="21.20" fill="rgb(38,38,38)" />
<rect x="550.10" y="833.80" width="5.30" height="21.20" fill="rgb(89,89,89)" />
<rect x="555.40" y="833.80" width="1.10" height="21.20" fill="rgb(128,128,128)" />
<rect x="556.50" y="833.80" width="5.30" height="21.20" fill="rgb(25,25,25)" />
<rect x="561.80" y="833.80" width="4.10" height="21.20" fill="rgb(153,153,153)" />
<rect x="565.90" y="833.80" width="3.50" height="21.20" fill="rgb(204,204,204)" />
<rect x="569.40" y="833.80" width="1.10" height="21.20" fill="rgb(77,77,77)" />
<rect x="570.50" y="833.80" width="3.50" height="21.20" fill="rgb(51,51,51)" />
<rect x="574.00" y="833.80" width="4.10" height="21.20" fill="rgb(153,153,153)" />
<rect x="578.10" y="833.80" width="2.90" height="21.20" fill="rgb(89,89,89)" />
<rect x="581.00" y="833.80" width="2.40" height="21.20" fill="rgb(204,204,204)" />
<rect x="583.40" y="833.80" width="2.30" height="21.20" fill="rgb(102,102,102)" />
<rect x="585.70" y="833.80" width="1.80" height="21.20" fill="rgb(217,217,217)" />
<rect x="587.50" y="833.80" width="1.70" height="21.20" fill="rgb(102,102,102)" />
<rect x="589.20" y="833.80" width="3.50" height="21.20" fill="rgb(204,204,204)" />
<rect x="592.70" y="833.80" width="2.40" height="21.20" fill="rgb(102,102,102)" />
<rect x="596.80" y="833.80" width="1.80" height="21.20" fill="rgb(38,38,38)" />
<rect x="598.60" y="833.80" width="4.10" height="21.20" fill="rgb(217,217,217)" />
<rect x="602.70" y="833.80" width="1.70" height="21.20" fill="rgb(77,77,77)" />
<rect x="606.70" y="833.80" width="3.60" height="21.20" fill="rgb(128,128,128)" />
<rect x="605.00" y="833.80" width="1.20" height="21.20" fill="rgb(38,38,38)" />
<rect x="606.20" y="833.80" width="3.50" height="21.20" fill="rgb(128,128,128)" />
<rect x="610.80" y="833.80" width="1.20" height="21.20" fill="rgb(128,128,128)" />
<rect x="613.20" y="833.80" width="1.80" height="21.20" fill="rgb(102,102,102)" />
<rect x="615.00" y="833.80" width="2.80" height="21.20" fill="rgb(77,77,77)" />
<rect x="620.20" y="833.80" width="1.70" height="21.20" fill="rgb(128,128,128)" />
<rect x="621.90" y="833.80" width="3.50" height="21.20" fill="rgb(102,102,102)" />
<rect x="625.40" y="833.80" width="3.00" height="21.20" fill="rgb(191,191,191)" />
<rect x="630.70" y="833.80" width="1.70" height="21.20" fill="rgb(128,128,128)" />
<rect x="634.20" y="833.80" width="1.80" height="21.20" fill="rgb(102,102,102)" />
<rect x="638.30" y="833.80" width="1.70" height="21.20" fill="rgb(102,102,102)" />
<rect x="640.00" y="833.80" width="2.40" height="21.20" fill="rgb(64,64,64)" />
<rect x="642.40" y="833.80" width="1.10" height="21.20" fill="rgb(140,140,140)" />
<rect x="645.30" y="833.80" width="3.50" height="21.20" fill="rgb(153,153,153)" />
<rect x="654.00" y="833.80" width="1.80" height="21.20" fill="rgb(77,77,77)" />
<rect x="655.80" y="833.80" width="4.10" height="21.20" fill="rgb(153,153,153)" />
<rect x="664.60" y="833.80" width="1.10" height="21.20" fill="rgb(77,77,77)" />
<rect x="669.80" y="833.80" width="2.40" height="21.20" fill="rgb(64,64,64)" />
<rect x="672.20" y="833.80" width="1.70" height="21.20" fill="rgb(128,128,128)" />
<rect x="673.90" y="833.80" width="2.90" height="21.20" fill="rgb(51,51,51)" />
<rect x="535.50" y="855.50" width="110.40" height="5.70" fill="url(#gg2)" />
<rect x="645.90" y="855.50" width="14.00" height="5.70" fill="#f8b8e8" />
<rect x="659.90" y="855.50" width="8.20" height="5.70" fill="#d0d0f8" />
<rect x="668.10" y="855.50" width="2.90" height="5.70" fill="#8890f8" />
<rect x="671.00" y="855.50" width="5.20" height="5.70" fill="#6a50f0" />
<rect x="676.20" y="855.50" width="1.80" height="5.70" fill="#2000d0" />
<line x1="533.50" y1="826.70" x2="535.50" y2="826.70" stroke="#777" stroke-width="0.8" />
<line x1="533.50" y1="819.79" x2="535.50" y2="819.79" stroke="#777" stroke-width="0.8" />
<line x1="533.50" y1="812.87" x2="535.50" y2="812.87" stroke="#777" stroke-width="0.8" />
<line x1="533.50" y1="805.96" x2="535.50" y2="805.96" stroke="#777" stroke-width="0.8" />
<line x1="533.50" y1="799.04" x2="535.50" y2="799.04" stroke="#777" stroke-width="0.8" />
<line x1="533.50" y1="792.12" x2="535.50" y2="792.12" stroke="#777" stroke-width="0.8" />
<line x1="533.50" y1="785.21" x2="535.50" y2="785.21" stroke="#777" stroke-width="0.8" />
<line x1="533.50" y1="778.30" x2="535.50" y2="778.30" stroke="#777" stroke-width="0.8" />
<line x1="533.50" y1="771.38" x2="535.50" y2="771.38" stroke="#777" stroke-width="0.8" />
<line x1="535.50" y1="765.40" x2="686.00" y2="765.40" stroke="#cfcfcf" stroke-width="1.2" />
<line x1="535.50" y1="765.40" x2="535.50" y2="861.30" stroke="#cfcfcf" stroke-width="1.2" />
<line x1="535.50" y1="861.30" x2="686.00" y2="861.30" stroke="#cfcfcf" stroke-width="1.2" />
<polyline points="535.6,826.4 537.8,820.2 540.5,812.1 544.6,798.6 548.6,787.8 552.7,783.8 558.1,781.9 562.1,771.6 566.2,772.1 568.9,773.8 572.9,770.3 578.3,768.9 586.4,770.3 591.8,772.1 595.9,774.3 599.9,773.0 606.7,777.0 616.1,782.4 626.9,790.5 640.4,801.3 653.9,813.5 664.7,822.9 670.1,827.8 674.2,828.9 677.7,826.4" fill="none" stroke="#1cf01c" stroke-width="1.45" stroke-linejoin="round"/>
<text x="533.00" y="828.65" font-size="5.9" text-anchor="end" fill="#222" >0.00</text>
<text x="533.00" y="821.73" font-size="5.9" text-anchor="end" fill="#222" >0.05</text>
<text x="533.00" y="814.82" font-size="5.9" text-anchor="end" fill="#222" >0.10</text>
<text x="533.00" y="807.90" font-size="5.9" text-anchor="end" fill="#222" >0.15</text>
<text x="533.00" y="800.99" font-size="5.9" text-anchor="end" fill="#222" >0.20</text>
<text x="533.00" y="794.07" font-size="5.9" text-anchor="end" fill="#222" >0.25</text>
<text x="533.00" y="787.16" font-size="5.9" text-anchor="end" fill="#222" >0.30</text>
<text x="533.00" y="780.24" font-size="5.9" text-anchor="end" fill="#222" >0.35</text>
<text x="533.00" y="773.33" font-size="5.9" text-anchor="end" fill="#222" >0.40</text>
<text x="611.40" y="763.00" font-size="9.7" font-weight="bold" text-anchor="middle" fill="#000" >mTOR</text>
<text x="0" y="0" font-size="9.6" font-weight="bold" text-anchor="middle" transform="translate(516.60,802.40) rotate(-90)">Enrichment (ES)</text>
<text x="644.00" y="774.40" font-size="7.7" text-anchor="start" fill="#111" >NES = 1.95</text>
<text x="644.00" y="783.40" font-size="7.7" text-anchor="start" fill="#111" >p-val = 0.00</text>
<text x="644.00" y="792.40" font-size="7.7" text-anchor="start" fill="#111" >FDR = 0.00</text>
<text x="350.20" y="870.50" font-size="9.5" font-weight="bold" text-anchor="start" fill="#f01a1a" >JAK/STAT(+)</text>
<text x="350.20" y="882.25" font-size="9.5" font-weight="bold" text-anchor="start" fill="#f01a1a" >&amp;PIM1(++)</text>
<text x="350.20" y="894.00" font-size="9.5" font-weight="bold" text-anchor="start" fill="#f01a1a" >samples</text>
<text x="535.10" y="870.50" font-size="9.5" font-weight="bold" text-anchor="start" fill="#f01a1a" >JAK/STAT(+)</text>
<text x="535.10" y="882.25" font-size="9.5" font-weight="bold" text-anchor="start" fill="#f01a1a" >&amp;PIM1(++)</text>
<text x="535.10" y="894.00" font-size="9.5" font-weight="bold" text-anchor="start" fill="#f01a1a" >samples</text>
<text x="492.90" y="870.50" font-size="9.5" font-weight="bold" text-anchor="end" fill="#1a1af0" >Thymocytes</text>
<text x="678.20" y="870.50" font-size="9.5" font-weight="bold" text-anchor="end" fill="#1a1af0" >Thymocytes</text>
<text x="92.20" y="265.00" font-size="9" text-anchor="middle" fill="#111" >M07e&#160;&#160;J3Q988P</text>
<line x1="33.40" y1="268.90" x2="145.70" y2="268.90" stroke="#111" stroke-width="1.5" />
<text x="50.50" y="279.80" font-size="9" text-anchor="start" fill="#111" >PIM447(&#956;M):</text>
<text x="54.60" y="293.00" font-size="8.6" text-anchor="middle" fill="#111" >0</text>
<text x="77.80" y="293.00" font-size="8.6" text-anchor="middle" fill="#111" >0.1</text>
<text x="99.30" y="293.00" font-size="8.6" text-anchor="middle" fill="#111" >1</text>
<text x="122.20" y="293.00" font-size="8.6" text-anchor="middle" fill="#111" >10</text>
<text x="25.80" y="297.60" font-size="6.8" text-anchor="end" fill="#111" >kDa:</text>
<clipPath id="cb1"><rect x="34.00" y="300.50" width="111.50" height="22.90"/></clipPath>
<rect x="33.00" y="299.50" width="113.50" height="24.90" fill="#e0e0e0" />
<g clip-path="url(#cb1)">
<rect x="47.00" y="311.60" width="18.00" height="2.80" rx="1.40" fill="#000" fill-opacity="0.100" filter="url(#b2)"/>
<rect x="69.00" y="311.20" width="18.00" height="2.80" rx="1.40" fill="#000" fill-opacity="0.100" filter="url(#b2)"/>
<rect x="90.70" y="310.90" width="18.00" height="2.80" rx="1.40" fill="#000" fill-opacity="0.100" filter="url(#b2)"/>
<rect x="112.30" y="309.90" width="18.00" height="2.80" rx="1.40" fill="#000" fill-opacity="0.100" filter="url(#b2)"/>
</g>
<rect x="32.75" y="299.25" width="114.00" height="25.40" fill="none" stroke="#151515" stroke-width="1.5"/>
<text x="148.90" y="316.00" font-size="9.05" text-anchor="start" fill="#111" >c-NOTCH</text>
<rect x="26.40" y="315.90" width="6.60" height="4.20" fill="#111" />
<text x="25.60" y="320.50" font-size="7.1" text-anchor="end" fill="#111" >100</text>
<clipPath id="cb2"><rect x="34.00" y="331.20" width="111.50" height="22.40"/></clipPath>
<rect x="33.00" y="330.20" width="113.50" height="24.40" fill="#e1e1e1" />
<g clip-path="url(#cb2)">
</g>
<rect x="32.75" y="329.95" width="114.00" height="24.90" fill="none" stroke="#151515" stroke-width="1.5"/>
<text x="148.90" y="344.50" font-size="9.05" text-anchor="start" fill="#111" >NOTCH</text>
<rect x="26.40" y="345.70" width="6.60" height="4.20" fill="#111" />
<text x="25.60" y="350.30" font-size="7.1" text-anchor="end" fill="#111" >250</text>
<clipPath id="cb3"><rect x="34.00" y="361.10" width="111.50" height="22.90"/></clipPath>
<rect x="33.00" y="360.10" width="113.50" height="24.90" fill="#e2e2e2" />
<g clip-path="url(#cb3)">
<rect x="47.50" y="370.90" width="17.00" height="5.80" rx="2.60" fill="#000" fill-opacity="1.000" filter="url(#b1)"/>
<rect x="68.80" y="369.50" width="17.40" height="6.60" rx="2.60" fill="#000" fill-opacity="1.000" filter="url(#b1)"/>
<rect x="90.30" y="368.70" width="17.40" height="6.40" rx="2.60" fill="#000" fill-opacity="1.000" filter="url(#b1)"/>
<rect x="112.30" y="367.50" width="17.60" height="6.80" rx="2.60" fill="#000" fill-opacity="1.000" filter="url(#b1)"/>
<rect x="48.00" y="377.90" width="16.00" height="1.80" rx="0.90" fill="#000" fill-opacity="0.150" filter="url(#b2)"/>
<rect x="70.00" y="377.90" width="16.00" height="1.80" rx="0.90" fill="#000" fill-opacity="0.150" filter="url(#b2)"/>
<rect x="91.70" y="377.90" width="16.00" height="1.80" rx="0.90" fill="#000" fill-opacity="0.150" filter="url(#b2)"/>
<rect x="113.30" y="377.90" width="16.00" height="1.80" rx="0.90" fill="#000" fill-opacity="0.150" filter="url(#b2)"/>
</g>
<rect x="32.75" y="359.85" width="114.00" height="25.40" fill="none" stroke="#151515" stroke-width="1.5"/>
<text x="148.90" y="373.70" font-size="9.05" text-anchor="start" fill="#111" >p-STAT5</text>
<rect x="26.40" y="363.50" width="6.60" height="4.20" fill="#111" />
<text x="25.60" y="368.10" font-size="7.1" text-anchor="end" fill="#111" >100</text>
<clipPath id="cb4"><rect x="34.00" y="391.50" width="111.50" height="22.50"/></clipPath>
<rect x="33.00" y="390.50" width="113.50" height="24.50" fill="#e2e2e2" />
<g clip-path="url(#cb4)">
<rect x="47.95" y="401.50" width="16.50" height="5.60" rx="2.60" fill="#000" fill-opacity="0.970" filter="url(#b1)"/>
<rect x="69.75" y="400.90" width="16.50" height="5.60" rx="2.60" fill="#000" fill-opacity="0.970" filter="url(#b1)"/>
<rect x="91.05" y="400.00" width="16.50" height="5.60" rx="2.60" fill="#000" fill-opacity="0.970" filter="url(#b1)"/>
<rect x="112.50" y="399.20" width="16.00" height="5.60" rx="2.60" fill="#000" fill-opacity="0.970" filter="url(#b1)"/>
<rect x="48.00" y="407.05" width="16.00" height="1.90" rx="0.95" fill="#000" fill-opacity="0.300" filter="url(#b2)"/>
<rect x="70.00" y="407.05" width="16.00" height="1.90" rx="0.95" fill="#000" fill-opacity="0.300" filter="url(#b2)"/>
<rect x="91.70" y="407.05" width="16.00" height="1.90" rx="0.95" fill="#000" fill-opacity="0.300" filter="url(#b2)"/>
<rect x="113.30" y="407.05" width="16.00" height="1.90" rx="0.95" fill="#000" fill-opacity="0.300" filter="url(#b2)"/>
<rect x="48.50" y="410.55" width="15.00" height="1.70" rx="0.85" fill="#000" fill-opacity="0.120" filter="url(#b2)"/>
<rect x="70.50" y="410.55" width="15.00" height="1.70" rx="0.85" fill="#000" fill-opacity="0.120" filter="url(#b2)"/>
<rect x="92.20" y="410.55" width="15.00" height="1.70" rx="0.85" fill="#000" fill-opacity="0.120" filter="url(#b2)"/>
<rect x="113.80" y="410.55" width="15.00" height="1.70" rx="0.85" fill="#000" fill-opacity="0.120" filter="url(#b2)"/>
</g>
<rect x="32.75" y="390.25" width="114.00" height="25.00" fill="none" stroke="#151515" stroke-width="1.5"/>
<text x="148.90" y="405.40" font-size="9.05" text-anchor="start" fill="#111" >STAT5</text>
<rect x="26.40" y="397.00" width="6.60" height="4.20" fill="#111" />
<text x="25.60" y="401.60" font-size="7.1" text-anchor="end" fill="#111" >100</text>
<clipPath id="cb5"><rect x="34.00" y="421.20" width="111.50" height="22.60"/></clipPath>
<rect x="33.00" y="420.20" width="113.50" height="24.60" fill="#e1e1e1" />
<g clip-path="url(#cb5)">
<rect x="47.00" y="422.00" width="18.00" height="22.00" fill="#000" fill-opacity="0.040" filter="url(#b3)"/>
<rect x="69.00" y="422.00" width="18.00" height="22.00" fill="#000" fill-opacity="0.040" filter="url(#b3)"/>
<rect x="90.70" y="422.00" width="18.00" height="22.00" fill="#000" fill-opacity="0.040" filter="url(#b3)"/>
<rect x="112.30" y="422.00" width="18.00" height="22.00" fill="#000" fill-opacity="0.040" filter="url(#b3)"/>
<rect x="47.00" y="429.05" width="18.00" height="2.70" rx="1.35" fill="#000" fill-opacity="0.100" filter="url(#b2)"/>
<rect x="69.00" y="429.05" width="18.00" height="2.70" rx="1.35" fill="#000" fill-opacity="0.100" filter="url(#b2)"/>
<rect x="90.70" y="429.05" width="18.00" height="2.70" rx="1.35" fill="#000" fill-opacity="0.100" filter="url(#b2)"/>
<rect x="112.30" y="429.05" width="18.00" height="2.70" rx="1.35" fill="#000" fill-opacity="0.100" filter="url(#b2)"/>
<rect x="47.00" y="435.15" width="18.00" height="2.50" rx="1.25" fill="#000" fill-opacity="0.070" filter="url(#b2)"/>
<rect x="69.00" y="435.15" width="18.00" height="2.50" rx="1.25" fill="#000" fill-opacity="0.070" filter="url(#b2)"/>
<rect x="90.70" y="435.15" width="18.00" height="2.50" rx="1.25" fill="#000" fill-opacity="0.070" filter="url(#b2)"/>
<rect x="112.30" y="435.15" width="18.00" height="2.50" rx="1.25" fill="#000" fill-opacity="0.070" filter="url(#b2)"/>
</g>
<rect x="32.75" y="419.95" width="114.00" height="25.10" fill="none" stroke="#151515" stroke-width="1.5"/>
<text x="148.90" y="437.70" font-size="9.05" text-anchor="start" fill="#111" >p-AKT</text>
<rect x="26.40" y="440.60" width="6.60" height="4.20" fill="#111" />
<text x="25.60" y="445.20" font-size="7.1" text-anchor="end" fill="#111" >50</text>
<clipPath id="cb6"><rect x="34.00" y="451.40" width="111.50" height="23.00"/></clipPath>
<rect x="33.00" y="450.40" width="113.50" height="25.00" fill="#e2e2e2" />
<g clip-path="url(#cb6)">
<rect x="46.75" y="462.10" width="18.50" height="8.00" rx="2.60" fill="#000" fill-opacity="1.000" filter="url(#b1)"/>
<rect x="69.00" y="461.80" width="18.00" height="8.00" rx="2.60" fill="#000" fill-opacity="1.000" filter="url(#b1)"/>
<rect x="90.70" y="461.50" width="18.00" height="8.00" rx="2.60" fill="#000" fill-opacity="1.000" filter="url(#b1)"/>
<rect x="112.80" y="460.10" width="17.00" height="8.00" rx="2.60" fill="#000" fill-opacity="1.000" filter="url(#b1)"/>
</g>
<rect x="32.75" y="450.15" width="114.00" height="25.50" fill="none" stroke="#151515" stroke-width="1.5"/>
<text x="148.90" y="469.00" font-size="9.05" text-anchor="start" fill="#111" >AKT</text>
<rect x="26.40" y="471.90" width="6.60" height="4.20" fill="#111" />
<text x="25.60" y="476.50" font-size="7.1" text-anchor="end" fill="#111" >50</text>
<clipPath id="cb7"><rect x="34.00" y="482.50" width="111.50" height="22.50"/></clipPath>
<rect x="33.00" y="481.50" width="113.50" height="24.50" fill="#e2e2e2" />
<g clip-path="url(#cb7)">
<rect x="47.00" y="483.00" width="18.00" height="22.00" fill="#000" fill-opacity="0.050" filter="url(#b3)"/>
<rect x="69.00" y="483.00" width="18.00" height="22.00" fill="#000" fill-opacity="0.050" filter="url(#b3)"/>
<rect x="90.70" y="483.00" width="18.00" height="22.00" fill="#000" fill-opacity="0.050" filter="url(#b3)"/>
<rect x="112.30" y="483.00" width="18.00" height="22.00" fill="#000" fill-opacity="0.050" filter="url(#b3)"/>
<rect x="47.25" y="493.45" width="17.50" height="6.70" rx="2.60" fill="#000" fill-opacity="0.920" filter="url(#b2)"/>
<rect x="69.25" y="493.45" width="17.50" height="6.70" rx="2.60" fill="#000" fill-opacity="0.900" filter="url(#b2)"/>
<rect x="90.95" y="493.45" width="17.50" height="6.70" rx="2.60" fill="#000" fill-opacity="0.780" filter="url(#b2)"/>
<rect x="112.55" y="493.45" width="17.50" height="6.70" rx="2.60" fill="#000" fill-opacity="0.620" filter="url(#b2)"/>
<rect x="47.50" y="487.90" width="17.00" height="4.20" rx="2.10" fill="#000" fill-opacity="0.100" filter="url(#b3)"/>
<rect x="69.50" y="487.90" width="17.00" height="4.20" rx="2.10" fill="#000" fill-opacity="0.100" filter="url(#b3)"/>
<rect x="91.20" y="487.90" width="17.00" height="4.20" rx="2.10" fill="#000" fill-opacity="0.100" filter="url(#b3)"/>
<rect x="112.80" y="487.90" width="17.00" height="4.20" rx="2.10" fill="#000" fill-opacity="0.100" filter="url(#b3)"/>
</g>
<rect x="32.75" y="481.25" width="114.00" height="25.00" fill="none" stroke="#151515" stroke-width="1.5"/>
<text x="148.90" y="497.50" font-size="9.05" text-anchor="start" fill="#111" >p-c-MYC</text>
<rect x="26.40" y="482.50" width="6.60" height="4.20" fill="#111" />
<text x="25.60" y="487.10" font-size="7.1" text-anchor="end" fill="#111" >75</text>
<clipPath id="cb8"><rect x="34.00" y="513.20" width="111.50" height="22.60"/></clipPath>
<rect x="33.00" y="512.20" width="113.50" height="24.60" fill="#e2e2e2" />
<g clip-path="url(#cb8)">
<rect x="47.00" y="514.00" width="18.00" height="22.00" fill="#000" fill-opacity="0.050" filter="url(#b3)"/>
<rect x="69.00" y="514.00" width="18.00" height="22.00" fill="#000" fill-opacity="0.050" filter="url(#b3)"/>
<rect x="90.70" y="514.00" width="18.00" height="22.00" fill="#000" fill-opacity="0.050" filter="url(#b3)"/>
<rect x="112.30" y="514.00" width="18.00" height="22.00" fill="#000" fill-opacity="0.050" filter="url(#b3)"/>
<rect x="46.75" y="521.65" width="18.50" height="10.70" rx="2.60" fill="#000" fill-opacity="1.000" filter="url(#b2)"/>
<rect x="68.75" y="521.65" width="18.50" height="10.70" rx="2.60" fill="#000" fill-opacity="0.930" filter="url(#b2)"/>
<rect x="90.45" y="521.65" width="18.50" height="10.70" rx="2.60" fill="#000" fill-opacity="0.840" filter="url(#b2)"/>
<rect x="112.05" y="521.65" width="18.50" height="10.70" rx="2.60" fill="#000" fill-opacity="0.600" filter="url(#b2)"/>
</g>
<rect x="32.75" y="511.95" width="114.00" height="25.10" fill="none" stroke="#151515" stroke-width="1.5"/>
<text x="148.90" y="530.00" font-size="9.05" text-anchor="start" fill="#111" >c-MYC</text>
<rect x="26.40" y="512.60" width="6.60" height="4.20" fill="#111" />
<text x="25.60" y="517.20" font-size="7.1" text-anchor="end" fill="#111" >75</text>
<clipPath id="cb9"><rect x="34.00" y="543.90" width="111.50" height="21.50"/></clipPath>
<rect x="33.00" y="542.90" width="113.50" height="23.50" fill="#e2e2e2" />
<g clip-path="url(#cb9)">
<rect x="47.25" y="549.75" width="17.50" height="2.70" rx="1.35" fill="#000" fill-opacity="0.450" filter="url(#b1)"/>
<rect x="69.25" y="549.75" width="17.50" height="2.70" rx="1.35" fill="#000" fill-opacity="0.350" filter="url(#b1)"/>
<rect x="90.95" y="549.15" width="17.50" height="2.70" rx="1.35" fill="#000" fill-opacity="0.450" filter="url(#b1)"/>
<rect x="112.55" y="548.75" width="17.50" height="2.70" rx="1.35" fill="#000" fill-opacity="0.280" filter="url(#b1)"/>
<rect x="46.75" y="556.80" width="18.50" height="5.40" rx="2.60" fill="#000" fill-opacity="1.000" filter="url(#b1)"/>
<rect x="68.75" y="556.60" width="18.50" height="5.40" rx="2.60" fill="#000" fill-opacity="1.000" filter="url(#b1)"/>
<rect x="90.45" y="556.00" width="18.50" height="5.40" rx="2.60" fill="#000" fill-opacity="1.000" filter="url(#b1)"/>
<rect x="112.05" y="555.10" width="18.50" height="5.40" rx="2.60" fill="#000" fill-opacity="1.000" filter="url(#b1)"/>
</g>
<rect x="32.75" y="542.65" width="114.00" height="24.00" fill="none" stroke="#151515" stroke-width="1.5"/>
<text x="148.90" y="559.80" font-size="9.05" text-anchor="start" fill="#111" >p-ERK</text>
<rect x="26.40" y="545.90" width="6.60" height="4.20" fill="#111" />
<text x="25.60" y="550.50" font-size="7.1" text-anchor="end" fill="#111" >50</text>
<clipPath id="cb10"><rect x="34.00" y="573.50" width="111.50" height="22.60"/></clipPath>
<rect x="33.00" y="572.50" width="113.50" height="24.60" fill="#e2e2e2" />
<g clip-path="url(#cb10)">
<rect x="47.25" y="580.00" width="17.50" height="4.40" rx="2.20" fill="#000" fill-opacity="0.600" filter="url(#b1)"/>
<rect x="69.25" y="580.00" width="17.50" height="4.40" rx="2.20" fill="#000" fill-opacity="0.600" filter="url(#b1)"/>
<rect x="90.95" y="580.00" width="17.50" height="4.40" rx="2.20" fill="#000" fill-opacity="0.600" filter="url(#b1)"/>
<rect x="112.55" y="578.10" width="17.50" height="4.40" rx="2.20" fill="#000" fill-opacity="0.600" filter="url(#b1)"/>
<rect x="47.00" y="587.60" width="18.00" height="5.40" rx="2.60" fill="#000" fill-opacity="1.000" filter="url(#b1)"/>
<rect x="69.00" y="587.30" width="18.00" height="5.40" rx="2.60" fill="#000" fill-opacity="1.000" filter="url(#b1)"/>
<rect x="90.70" y="587.10" width="18.00" height="5.40" rx="2.60" fill="#000" fill-opacity="1.000" filter="url(#b1)"/>
<rect x="112.30" y="585.50" width="18.00" height="5.40" rx="2.60" fill="#000" fill-opacity="1.000" filter="url(#b1)"/>
</g>
<rect x="32.75" y="572.25" width="114.00" height="25.10" fill="none" stroke="#151515" stroke-width="1.5"/>
<text x="148.90" y="585.10" font-size="9.05" text-anchor="start" fill="#111" >ERK</text>
<rect x="26.40" y="576.60" width="6.60" height="4.20" fill="#111" />
<text x="25.60" y="581.20" font-size="7.1" text-anchor="end" fill="#111" >50</text>
<clipPath id="cb11"><rect x="34.00" y="604.20" width="111.50" height="22.10"/></clipPath>
<rect x="33.00" y="603.20" width="113.50" height="24.10" fill="#e2e2e2" />
<g clip-path="url(#cb11)">
<rect x="47.25" y="611.90" width="17.50" height="5.00" rx="2.50" fill="#000" fill-opacity="1.000" filter="url(#b1)"/>
<rect x="69.25" y="611.90" width="17.50" height="5.00" rx="2.50" fill="#000" fill-opacity="0.850" filter="url(#b1)"/>
<rect x="90.95" y="611.90" width="17.50" height="5.00" rx="2.50" fill="#000" fill-opacity="0.550" filter="url(#b1)"/>
<rect x="112.55" y="611.90" width="17.50" height="5.00" rx="2.50" fill="#000" fill-opacity="0.280" filter="url(#b1)"/>
</g>
<rect x="32.75" y="602.95" width="114.00" height="24.60" fill="none" stroke="#151515" stroke-width="1.5"/>
<text x="148.90" y="616.00" font-size="9.05" text-anchor="start" fill="#111" >p-S6</text>
<rect x="26.40" y="602.70" width="6.60" height="4.20" fill="#111" />
<text x="25.60" y="607.30" font-size="7.1" text-anchor="end" fill="#111" >37</text>
<clipPath id="cb12"><rect x="34.00" y="634.40" width="111.50" height="22.40"/></clipPath>
<rect x="33.00" y="633.40" width="113.50" height="24.40" fill="#e2e2e2" />
<g clip-path="url(#cb12)">
<rect x="47.50" y="634.00" width="17.00" height="14.00" fill="#000" fill-opacity="0.130" filter="url(#b3)"/>
<rect x="69.50" y="634.00" width="17.00" height="14.00" fill="#000" fill-opacity="0.110" filter="url(#b3)"/>
<rect x="91.20" y="634.00" width="17.00" height="14.00" fill="#000" fill-opacity="0.100" filter="url(#b3)"/>
<rect x="112.80" y="634.00" width="17.00" height="14.00" fill="#000" fill-opacity="0.080" filter="url(#b3)"/>
<rect x="44.00" y="643.90" width="21.00" height="8.20" rx="2.60" fill="#000" fill-opacity="1.000" filter="url(#b1)"/>
<rect x="67.00" y="643.90" width="20.00" height="8.20" rx="2.60" fill="#000" fill-opacity="1.000" filter="url(#b1)"/>
<rect x="88.90" y="643.90" width="20.00" height="8.20" rx="2.60" fill="#000" fill-opacity="1.000" filter="url(#b1)"/>
<rect x="111.05" y="643.90" width="20.50" height="8.20" rx="2.60" fill="#000" fill-opacity="1.000" filter="url(#b1)"/>
</g>
<rect x="32.75" y="633.15" width="114.00" height="24.90" fill="none" stroke="#151515" stroke-width="1.5"/>
<text x="148.90" y="645.80" font-size="9.05" text-anchor="start" fill="#111" >S6</text>
<rect x="26.40" y="633.80" width="6.60" height="4.20" fill="#111" />
<text x="25.60" y="638.40" font-size="7.1" text-anchor="end" fill="#111" >37</text>
<clipPath id="cb13"><rect x="34.00" y="664.00" width="111.50" height="22.60"/></clipPath>
<rect x="33.00" y="663.00" width="113.50" height="24.60" fill="#e2e2e2" />
<g clip-path="url(#cb13)">
<rect x="46.50" y="674.00" width="19.00" height="6.20" rx="2.60" fill="#000" fill-opacity="1.000" filter="url(#b1)"/>
<rect x="68.50" y="673.90" width="19.00" height="6.20" rx="2.60" fill="#000" fill-opacity="1.000" filter="url(#b1)"/>
<rect x="90.20" y="673.70" width="19.00" height="6.20" rx="2.60" fill="#000" fill-opacity="1.000" filter="url(#b1)"/>
<rect x="111.80" y="672.40" width="19.00" height="6.20" rx="2.60" fill="#000" fill-opacity="1.000" filter="url(#b1)"/>
</g>
<rect x="32.75" y="662.75" width="114.00" height="25.10" fill="none" stroke="#151515" stroke-width="1.5"/>
<text x="148.90" y="675.30" font-size="9.05" text-anchor="start" fill="#111" >Actin</text>
<rect x="26.40" y="679.80" width="6.60" height="4.20" fill="#111" />
<text x="25.60" y="684.40" font-size="7.1" text-anchor="end" fill="#111" >37</text>
<text x="306.50" y="265.00" font-size="9" text-anchor="middle" fill="#111" >M07e&#160;&#160;J1V658F</text>
<line x1="249.20" y1="268.90" x2="361.80" y2="268.90" stroke="#111" stroke-width="1.5" />
<text x="266.70" y="279.80" font-size="9" text-anchor="start" fill="#111" >PIM447(&#956;M):</text>
<text x="270.40" y="293.00" font-size="8.6" text-anchor="middle" fill="#111" >0</text>
<text x="293.10" y="293.00" font-size="8.6" text-anchor="middle" fill="#111" >0.1</text>
<text x="316.20" y="293.00" font-size="8.6" text-anchor="middle" fill="#111" >1</text>
<text x="337.30" y="293.00" font-size="8.6" text-anchor="middle" fill="#111" >10</text>
<text x="242.20" y="297.90" font-size="6.8" text-anchor="end" fill="#111" >kDa:</text>
<clipPath id="cb14"><rect x="249.40" y="300.20" width="111.50" height="23.10"/></clipPath>
<rect x="248.40" y="299.20" width="113.50" height="25.10" fill="#e2e2e2" />
<g clip-path="url(#cb14)">
<rect x="263.20" y="301.00" width="17.00" height="23.00" fill="#000" fill-opacity="0.050" filter="url(#b3)"/>
<rect x="285.00" y="301.00" width="17.00" height="23.00" fill="#000" fill-opacity="0.050" filter="url(#b3)"/>
<rect x="305.80" y="301.00" width="17.00" height="23.00" fill="#000" fill-opacity="0.050" filter="url(#b3)"/>
<rect x="328.10" y="301.00" width="17.00" height="23.00" fill="#000" fill-opacity="0.050" filter="url(#b3)"/>
<rect x="262.95" y="311.95" width="17.50" height="7.70" rx="2.60" fill="#000" fill-opacity="1.000" filter="url(#b2)"/>
<rect x="284.75" y="311.95" width="17.50" height="7.70" rx="2.60" fill="#000" fill-opacity="0.900" filter="url(#b2)"/>
<rect x="305.55" y="311.95" width="17.50" height="7.70" rx="2.60" fill="#000" fill-opacity="0.750" filter="url(#b2)"/>
<rect x="327.85" y="311.95" width="17.50" height="7.70" rx="2.60" fill="#000" fill-opacity="0.550" filter="url(#b2)"/>
<rect x="263.20" y="308.25" width="17.00" height="4.70" rx="2.35" fill="#000" fill-opacity="0.350" filter="url(#b2)"/>
<rect x="285.00" y="308.25" width="17.00" height="4.70" rx="2.35" fill="#000" fill-opacity="0.300" filter="url(#b2)"/>
<rect x="305.80" y="308.25" width="17.00" height="4.70" rx="2.35" fill="#000" fill-opacity="0.280" filter="url(#b2)"/>
<rect x="328.10" y="308.25" width="17.00" height="4.70" rx="2.35" fill="#000" fill-opacity="0.200" filter="url(#b2)"/>
</g>
<rect x="248.15" y="298.95" width="114.00" height="25.60" fill="none" stroke="#151515" stroke-width="1.5"/>
<text x="364.30" y="315.70" font-size="9.05" text-anchor="start" fill="#111" >p-c-MYC</text>
<rect x="241.80" y="302.00" width="6.60" height="4.20" fill="#111" />
<text x="241.00" y="306.60" font-size="7.1" text-anchor="end" fill="#111" >75</text>
<clipPath id="cb15"><rect x="249.40" y="330.90" width="111.50" height="22.90"/></clipPath>
<rect x="248.40" y="329.90" width="113.50" height="24.90" fill="#e2e2e2" />
<g clip-path="url(#cb15)">
<rect x="262.70" y="331.00" width="18.00" height="23.00" fill="#000" fill-opacity="0.050" filter="url(#b3)"/>
<rect x="284.50" y="331.00" width="18.00" height="23.00" fill="#000" fill-opacity="0.050" filter="url(#b3)"/>
<rect x="305.30" y="331.00" width="18.00" height="23.00" fill="#000" fill-opacity="0.050" filter="url(#b3)"/>
<rect x="327.60" y="331.00" width="18.00" height="23.00" fill="#000" fill-opacity="0.050" filter="url(#b3)"/>
<rect x="262.70" y="339.10" width="18.00" height="11.40" rx="2.60" fill="#000" fill-opacity="1.000" filter="url(#b2)"/>
<rect x="284.50" y="339.10" width="18.00" height="11.40" rx="2.60" fill="#000" fill-opacity="0.950" filter="url(#b2)"/>
<rect x="305.30" y="339.10" width="18.00" height="11.40" rx="2.60" fill="#000" fill-opacity="0.820" filter="url(#b2)"/>
<rect x="327.60" y="339.10" width="18.00" height="11.40" rx="2.60" fill="#000" fill-opacity="0.550" filter="url(#b2)"/>
</g>
<rect x="248.15" y="329.65" width="114.00" height="25.40" fill="none" stroke="#151515" stroke-width="1.5"/>
<text x="364.30" y="344.60" font-size="9.05" text-anchor="start" fill="#111" >c-MYC</text>
<rect x="241.80" y="333.10" width="6.60" height="4.20" fill="#111" />
<text x="241.00" y="337.70" font-size="7.1" text-anchor="end" fill="#111" >75</text>
<clipPath id="cb16"><rect x="249.40" y="361.10" width="111.50" height="21.90"/></clipPath>
<rect x="248.40" y="360.10" width="113.50" height="23.90" fill="#e2e2e2" />
<g clip-path="url(#cb16)">
<rect x="263.20" y="370.90" width="17.00" height="4.80" rx="2.40" fill="#000" fill-opacity="1.000" filter="url(#b1)"/>
<rect x="285.50" y="370.90" width="16.00" height="4.80" rx="2.40" fill="#000" fill-opacity="0.620" filter="url(#b1)"/>
<rect x="306.30" y="370.90" width="16.00" height="4.80" rx="2.40" fill="#000" fill-opacity="0.280" filter="url(#b1)"/>
<rect x="328.60" y="370.90" width="16.00" height="4.80" rx="2.40" fill="#000" fill-opacity="0.100" filter="url(#b1)"/>
</g>
<rect x="248.15" y="359.85" width="114.00" height="24.40" fill="none" stroke="#151515" stroke-width="1.5"/>
<text x="364.30" y="376.00" font-size="9.05" text-anchor="start" fill="#111" >p-S6</text>
<rect x="241.80" y="364.40" width="6.60" height="4.20" fill="#111" />
<text x="241.00" y="369.00" font-size="7.1" text-anchor="end" fill="#111" >37</text>
<clipPath id="cb17"><rect x="249.40" y="391.20" width="111.50" height="22.50"/></clipPath>
<rect x="248.40" y="390.20" width="113.50" height="24.50" fill="#e2e2e2" />
<g clip-path="url(#cb17)">
<rect x="262.70" y="391.00" width="18.00" height="13.00" fill="#000" fill-opacity="0.070" filter="url(#b3)"/>
<rect x="284.50" y="391.00" width="18.00" height="13.00" fill="#000" fill-opacity="0.070" filter="url(#b3)"/>
<rect x="305.30" y="391.00" width="18.00" height="13.00" fill="#000" fill-opacity="0.070" filter="url(#b3)"/>
<rect x="327.60" y="391.00" width="18.00" height="13.00" fill="#000" fill-opacity="0.070" filter="url(#b3)"/>
<rect x="259.45" y="399.00" width="21.50" height="9.00" rx="2.60" fill="#000" fill-opacity="1.000" filter="url(#b1)"/>
<rect x="282.75" y="399.00" width="20.50" height="9.00" rx="2.60" fill="#000" fill-opacity="1.000" filter="url(#b1)"/>
<rect x="304.05" y="399.00" width="20.50" height="9.00" rx="2.60" fill="#000" fill-opacity="1.000" filter="url(#b1)"/>
<rect x="326.85" y="399.00" width="20.50" height="9.00" rx="2.60" fill="#000" fill-opacity="1.000" filter="url(#b1)"/>
</g>
<rect x="248.15" y="389.95" width="114.00" height="25.00" fill="none" stroke="#151515" stroke-width="1.5"/>
<text x="364.30" y="404.90" font-size="9.05" text-anchor="start" fill="#111" >S6</text>
<rect x="241.80" y="391.30" width="6.60" height="4.20" fill="#111" />
<text x="241.00" y="395.90" font-size="7.1" text-anchor="end" fill="#111" >37</text>
<clipPath id="cb18"><rect x="249.40" y="421.30" width="111.50" height="22.50"/></clipPath>
<rect x="248.40" y="420.30" width="113.50" height="24.50" fill="#e2e2e2" />
<g clip-path="url(#cb18)">
<rect x="262.20" y="429.85" width="19.00" height="5.10" rx="2.55" fill="#000" fill-opacity="1.000" filter="url(#b1)"/>
<rect x="284.00" y="430.45" width="19.00" height="5.10" rx="2.55" fill="#000" fill-opacity="1.000" filter="url(#b1)"/>
<rect x="304.80" y="430.65" width="19.00" height="5.10" rx="2.55" fill="#000" fill-opacity="1.000" filter="url(#b1)"/>
<rect x="327.10" y="430.75" width="19.00" height="5.10" rx="2.55" fill="#000" fill-opacity="1.000" filter="url(#b1)"/>
</g>
<rect x="248.15" y="420.05" width="114.00" height="25.00" fill="none" stroke="#151515" stroke-width="1.5"/>
<text x="364.30" y="434.20" font-size="9.05" text-anchor="start" fill="#111" >Actin</text>
<rect x="241.80" y="436.90" width="6.60" height="4.20" fill="#111" />
<text x="241.00" y="441.50" font-size="7.1" text-anchor="end" fill="#111" >37</text>
<text x="308.70" y="504.50" font-size="9" text-anchor="middle" fill="#111" >M07e&#160;&#160;S5N642H</text>
<line x1="249.90" y1="508.70" x2="361.80" y2="508.70" stroke="#111" stroke-width="1.5" />
<text x="267.90" y="520.00" font-size="9" text-anchor="start" fill="#111" >PIM447(&#956;M):</text>
<text x="270.50" y="534.90" font-size="8.6" text-anchor="middle" fill="#111" >0</text>
<text x="293.30" y="534.90" font-size="8.6" text-anchor="middle" fill="#111" >0.1</text>
<text x="316.20" y="534.90" font-size="8.6" text-anchor="middle" fill="#111" >1</text>
<text x="337.30" y="534.90" font-size="8.6" text-anchor="middle" fill="#111" >10</text>
<text x="243.40" y="539.40" font-size="6.8" text-anchor="end" fill="#111" >kDa:</text>
<clipPath id="cb19"><rect x="249.20" y="542.30" width="111.40" height="22.90"/></clipPath>
<rect x="248.20" y="541.30" width="113.40" height="24.90" fill="#c9c9c9" />
<g clip-path="url(#cb19)">
<rect x="266.30" y="542.00" width="18.00" height="24.00" fill="#000" fill-opacity="0.060" filter="url(#b3)"/>
<rect x="288.00" y="542.00" width="18.00" height="24.00" fill="#000" fill-opacity="0.060" filter="url(#b3)"/>
<rect x="309.50" y="542.00" width="18.00" height="24.00" fill="#000" fill-opacity="0.060" filter="url(#b3)"/>
<rect x="330.80" y="542.00" width="18.00" height="24.00" fill="#000" fill-opacity="0.060" filter="url(#b3)"/>
<rect x="266.30" y="551.80" width="18.00" height="7.20" rx="2.60" fill="#000" fill-opacity="1.000" filter="url(#b2)"/>
<rect x="266.30" y="546.75" width="18.00" height="5.70" rx="2.60" fill="#000" fill-opacity="0.450" filter="url(#b2)"/>
<rect x="288.00" y="547.70" width="18.00" height="10.20" rx="2.60" fill="#000" fill-opacity="0.550" filter="url(#b2)"/>
<rect x="309.50" y="547.70" width="18.00" height="10.20" rx="2.60" fill="#000" fill-opacity="0.600" filter="url(#b2)"/>
<rect x="330.30" y="547.70" width="19.00" height="10.20" rx="2.60" fill="#000" fill-opacity="0.320" filter="url(#b2)"/>
</g>
<rect x="247.95" y="541.05" width="113.90" height="25.40" fill="none" stroke="#151515" stroke-width="1.5"/>
<text x="363.80" y="557.70" font-size="9.05" text-anchor="start" fill="#111" >p-c-MYC</text>
<rect x="241.60" y="542.00" width="6.60" height="4.20" fill="#111" />
<text x="240.80" y="546.60" font-size="7.1" text-anchor="end" fill="#111" >75</text>
<clipPath id="cb20"><rect x="249.20" y="573.00" width="111.40" height="22.90"/></clipPath>
<rect x="248.20" y="572.00" width="113.40" height="24.90" fill="#e2e2e2" />
<g clip-path="url(#cb20)">
<rect x="266.30" y="573.00" width="18.00" height="23.00" fill="#000" fill-opacity="0.050" filter="url(#b3)"/>
<rect x="288.00" y="573.00" width="18.00" height="23.00" fill="#000" fill-opacity="0.050" filter="url(#b3)"/>
<rect x="309.50" y="573.00" width="18.00" height="23.00" fill="#000" fill-opacity="0.050" filter="url(#b3)"/>
<rect x="330.80" y="573.00" width="18.00" height="23.00" fill="#000" fill-opacity="0.050" filter="url(#b3)"/>
<rect x="266.30" y="577.90" width="18.00" height="12.20" rx="2.60" fill="#000" fill-opacity="1.000" filter="url(#b2)"/>
<rect x="288.00" y="577.90" width="18.00" height="12.20" rx="2.60" fill="#000" fill-opacity="0.900" filter="url(#b2)"/>
<rect x="309.50" y="577.90" width="18.00" height="12.20" rx="2.60" fill="#000" fill-opacity="0.850" filter="url(#b2)"/>
<rect x="330.80" y="577.90" width="18.00" height="12.20" rx="2.60" fill="#000" fill-opacity="0.520" filter="url(#b2)"/>
</g>
<rect x="247.95" y="571.75" width="113.90" height="25.40" fill="none" stroke="#151515" stroke-width="1.5"/>
<text x="363.80" y="586.10" font-size="9.05" text-anchor="start" fill="#111" >c-MYC</text>
<rect x="241.60" y="572.10" width="6.60" height="4.20" fill="#111" />
<text x="240.80" y="576.70" font-size="7.1" text-anchor="end" fill="#111" >75</text>
<clipPath id="cb21"><rect x="250.70" y="603.30" width="111.00" height="22.80"/></clipPath>
<rect x="249.70" y="602.30" width="113.00" height="24.80" fill="#e2e2e2" />
<g clip-path="url(#cb21)">
<rect x="263.30" y="612.20" width="20.00" height="5.60" rx="2.60" fill="#000" fill-opacity="1.000" filter="url(#b1)"/>
<rect x="288.50" y="612.20" width="17.00" height="5.60" rx="2.60" fill="#000" fill-opacity="0.850" filter="url(#b1)"/>
<rect x="310.50" y="612.20" width="16.00" height="5.60" rx="2.60" fill="#000" fill-opacity="0.300" filter="url(#b1)"/>
<rect x="331.80" y="612.20" width="16.00" height="5.60" rx="2.60" fill="#000" fill-opacity="0.150" filter="url(#b1)"/>
</g>
<rect x="249.45" y="602.05" width="113.50" height="25.30" fill="none" stroke="#151515" stroke-width="1.5"/>
<text x="364.90" y="618.90" font-size="9.05" text-anchor="start" fill="#111" >p-S6</text>
<rect x="243.10" y="605.50" width="6.60" height="4.20" fill="#111" />
<text x="242.30" y="610.10" font-size="7.1" text-anchor="end" fill="#111" >37</text>
<clipPath id="cb22"><rect x="250.70" y="633.30" width="111.00" height="23.10"/></clipPath>
<rect x="249.70" y="632.30" width="113.00" height="25.10" fill="#e2e2e2" />
<g clip-path="url(#cb22)">
<rect x="266.30" y="633.00" width="18.00" height="13.00" fill="#000" fill-opacity="0.060" filter="url(#b3)"/>
<rect x="288.00" y="633.00" width="18.00" height="13.00" fill="#000" fill-opacity="0.060" filter="url(#b3)"/>
<rect x="309.50" y="633.00" width="18.00" height="13.00" fill="#000" fill-opacity="0.060" filter="url(#b3)"/>
<rect x="330.80" y="633.00" width="18.00" height="13.00" fill="#000" fill-opacity="0.060" filter="url(#b3)"/>
<rect x="265.30" y="642.90" width="20.00" height="6.40" rx="2.60" fill="#000" fill-opacity="1.000" filter="url(#b1)"/>
<rect x="287.00" y="642.90" width="20.00" height="6.40" rx="2.60" fill="#000" fill-opacity="1.000" filter="url(#b1)"/>
<rect x="308.50" y="642.90" width="20.00" height="6.40" rx="2.60" fill="#000" fill-opacity="1.000" filter="url(#b1)"/>
<rect x="329.80" y="642.90" width="20.00" height="6.40" rx="2.60" fill="#000" fill-opacity="1.000" filter="url(#b1)"/>
</g>
<rect x="249.45" y="632.05" width="113.50" height="25.60" fill="none" stroke="#151515" stroke-width="1.5"/>
<text x="364.90" y="647.80" font-size="9.05" text-anchor="start" fill="#111" >S6</text>
<rect x="243.10" y="633.00" width="6.60" height="4.20" fill="#111" />
<text x="242.30" y="637.60" font-size="7.1" text-anchor="end" fill="#111" >37</text>
<clipPath id="cb23"><rect x="250.70" y="663.60" width="111.00" height="22.90"/></clipPath>
<rect x="249.70" y="662.60" width="113.00" height="24.90" fill="#e2e2e2" />
<g clip-path="url(#cb23)">
<rect x="265.30" y="672.60" width="20.00" height="6.40" rx="2.60" fill="#000" fill-opacity="1.000" filter="url(#b1)"/>
<rect x="287.00" y="672.60" width="20.00" height="6.40" rx="2.60" fill="#000" fill-opacity="1.000" filter="url(#b1)"/>
<rect x="308.50" y="672.60" width="20.00" height="6.40" rx="2.60" fill="#000" fill-opacity="1.000" filter="url(#b1)"/>
<rect x="329.80" y="672.60" width="20.00" height="6.40" rx="2.60" fill="#000" fill-opacity="1.000" filter="url(#b1)"/>
</g>
<rect x="249.45" y="662.35" width="113.50" height="25.40" fill="none" stroke="#151515" stroke-width="1.5"/>
<text x="364.90" y="676.70" font-size="9.05" text-anchor="start" fill="#111" >Actin</text>
<rect x="243.10" y="678.30" width="6.60" height="4.20" fill="#111" />
<text x="242.30" y="682.90" font-size="7.1" text-anchor="end" fill="#111" >37</text>
<text x="528.20" y="264.70" font-size="9" text-anchor="middle" fill="#111" >Jurkat</text>
<line x1="475.50" y1="268.80" x2="588.00" y2="268.80" stroke="#111" stroke-width="1.5" />
<text x="492.80" y="280.00" font-size="9" text-anchor="start" fill="#111" >PIM447(&#956;M):</text>
<text x="497.50" y="292.90" font-size="8.6" text-anchor="middle" fill="#111" >0</text>
<text x="519.70" y="292.90" font-size="8.6" text-anchor="middle" fill="#111" >0.1</text>
<text x="544.00" y="292.90" font-size="8.6" text-anchor="middle" fill="#111" >1</text>
<text x="564.50" y="292.90" font-size="8.6" text-anchor="middle" fill="#111" >10</text>
<text x="469.40" y="298.30" font-size="6.8" text-anchor="end" fill="#111" >kDa:</text>
<clipPath id="cb24"><rect x="477.50" y="300.20" width="110.80" height="23.50"/></clipPath>
<rect x="476.50" y="299.20" width="112.80" height="25.50" fill="#e2e2e2" />
<g clip-path="url(#cb24)">
<rect x="490.00" y="311.00" width="17.00" height="12.00" fill="#000" fill-opacity="0.120" filter="url(#b3)"/>
<rect x="512.00" y="311.00" width="17.00" height="12.00" fill="#000" fill-opacity="0.120" filter="url(#b3)"/>
<rect x="534.10" y="311.00" width="17.00" height="12.00" fill="#000" fill-opacity="0.120" filter="url(#b3)"/>
<rect x="556.40" y="311.00" width="17.00" height="12.00" fill="#000" fill-opacity="0.120" filter="url(#b3)"/>
<rect x="490.00" y="310.40" width="17.00" height="5.20" rx="2.60" fill="#000" fill-opacity="0.850" filter="url(#b1)"/>
<rect x="512.00" y="309.60" width="17.00" height="5.20" rx="2.60" fill="#000" fill-opacity="0.850" filter="url(#b1)"/>
<rect x="534.10" y="309.60" width="17.00" height="5.20" rx="2.60" fill="#000" fill-opacity="0.850" filter="url(#b1)"/>
<rect x="556.40" y="308.20" width="17.00" height="5.20" rx="2.60" fill="#000" fill-opacity="0.600" filter="url(#b1)"/>
</g>
<rect x="476.25" y="298.95" width="113.30" height="26.00" fill="none" stroke="#151515" stroke-width="1.5"/>
<text x="592.00" y="316.00" font-size="9.05" text-anchor="start" fill="#111" >c-NOTCH</text>
<rect x="469.90" y="315.10" width="6.60" height="4.20" fill="#111" />
<text x="469.10" y="319.70" font-size="7.1" text-anchor="end" fill="#111" >100</text>
<clipPath id="cb25"><rect x="477.50" y="330.90" width="110.80" height="22.90"/></clipPath>
<rect x="476.50" y="329.90" width="112.80" height="24.90" fill="#e4e4e4" />
<g clip-path="url(#cb25)">
</g>
<rect x="476.25" y="329.65" width="113.30" height="25.40" fill="none" stroke="#151515" stroke-width="1.5"/>
<text x="592.00" y="344.50" font-size="9.05" text-anchor="start" fill="#111" >NOTCH</text>
<rect x="469.90" y="345.40" width="6.60" height="4.20" fill="#111" />
<text x="469.10" y="350.00" font-size="7.1" text-anchor="end" fill="#111" >250</text>
<clipPath id="cb26"><rect x="477.50" y="361.10" width="110.80" height="22.90"/></clipPath>
<rect x="476.50" y="360.10" width="112.80" height="24.90" fill="#e6e6e6" />
<g clip-path="url(#cb26)">
</g>
<rect x="476.25" y="359.85" width="113.30" height="25.40" fill="none" stroke="#151515" stroke-width="1.5"/>
<text x="592.00" y="373.70" font-size="9.05" text-anchor="start" fill="#111" >p-STAT5</text>
<rect x="469.90" y="363.40" width="6.60" height="4.20" fill="#111" />
<text x="469.10" y="368.00" font-size="7.1" text-anchor="end" fill="#111" >100</text>
<clipPath id="cb27"><rect x="477.50" y="391.60" width="110.80" height="23.10"/></clipPath>
<rect x="476.50" y="390.60" width="112.80" height="25.10" fill="#e2e2e2" />
<g clip-path="url(#cb27)">
<rect x="490.00" y="392.00" width="17.00" height="23.00" fill="#000" fill-opacity="0.040" filter="url(#b3)"/>
<rect x="512.00" y="392.00" width="17.00" height="23.00" fill="#000" fill-opacity="0.040" filter="url(#b3)"/>
<rect x="534.10" y="392.00" width="17.00" height="23.00" fill="#000" fill-opacity="0.040" filter="url(#b3)"/>
<rect x="556.40" y="392.00" width="17.00" height="23.00" fill="#000" fill-opacity="0.040" filter="url(#b3)"/>
<rect x="490.80" y="400.75" width="17.00" height="6.10" rx="2.60" fill="#000" fill-opacity="1.000" filter="url(#b1)"/>
<rect x="512.50" y="400.75" width="17.00" height="6.10" rx="2.60" fill="#000" fill-opacity="1.000" filter="url(#b1)"/>
<rect x="534.40" y="400.75" width="17.00" height="6.10" rx="2.60" fill="#000" fill-opacity="1.000" filter="url(#b1)"/>
<rect x="556.00" y="400.75" width="17.00" height="6.10" rx="2.60" fill="#000" fill-opacity="1.000" filter="url(#b1)"/>
<rect x="491.05" y="407.35" width="16.50" height="2.10" rx="1.05" fill="#000" fill-opacity="0.850" filter="url(#b1)"/>
<rect x="512.75" y="407.35" width="16.50" height="2.10" rx="1.05" fill="#000" fill-opacity="0.850" filter="url(#b1)"/>
<rect x="534.65" y="407.35" width="16.50" height="2.10" rx="1.05" fill="#000" fill-opacity="0.850" filter="url(#b1)"/>
<rect x="556.25" y="407.35" width="16.50" height="2.10" rx="1.05" fill="#000" fill-opacity="0.850" filter="url(#b1)"/>
</g>
<rect x="476.25" y="390.35" width="113.30" height="25.60" fill="none" stroke="#151515" stroke-width="1.5"/>
<text x="592.00" y="405.40" font-size="9.05" text-anchor="start" fill="#111" >STAT5</text>
<rect x="469.90" y="397.00" width="6.60" height="4.20" fill="#111" />
<text x="469.10" y="401.60" font-size="7.1" text-anchor="end" fill="#111" >100</text>
<clipPath id="cb28"><rect x="477.50" y="421.50" width="110.80" height="22.40"/></clipPath>
<rect x="476.50" y="420.50" width="112.80" height="24.40" fill="#e2e2e2" />
<g clip-path="url(#cb28)">
<rect x="490.00" y="421.00" width="17.00" height="23.00" fill="#000" fill-opacity="0.040" filter="url(#b3)"/>
<rect x="512.00" y="421.00" width="17.00" height="23.00" fill="#000" fill-opacity="0.040" filter="url(#b3)"/>
<rect x="534.10" y="421.00" width="17.00" height="23.00" fill="#000" fill-opacity="0.040" filter="url(#b3)"/>
<rect x="556.40" y="421.00" width="17.00" height="23.00" fill="#000" fill-opacity="0.040" filter="url(#b3)"/>
<rect x="490.25" y="433.40" width="17.50" height="5.40" rx="2.60" fill="#000" fill-opacity="0.970" filter="url(#b1)"/>
<rect x="512.05" y="432.60" width="17.50" height="5.40" rx="2.60" fill="#000" fill-opacity="0.970" filter="url(#b1)"/>
<rect x="534.15" y="432.60" width="17.50" height="5.40" rx="2.60" fill="#000" fill-opacity="0.970" filter="url(#b1)"/>
<rect x="556.45" y="432.40" width="17.50" height="5.40" rx="2.60" fill="#000" fill-opacity="0.970" filter="url(#b1)"/>
</g>
<rect x="476.25" y="420.25" width="113.30" height="24.90" fill="none" stroke="#151515" stroke-width="1.5"/>
<text x="592.00" y="437.70" font-size="9.05" text-anchor="start" fill="#111" >p-AKT</text>
<rect x="469.90" y="441.10" width="6.60" height="4.20" fill="#111" />
<text x="469.10" y="445.70" font-size="7.1" text-anchor="end" fill="#111" >50</text>
<clipPath id="cb29"><rect x="477.50" y="451.50" width="110.80" height="22.90"/></clipPath>
<rect x="476.50" y="450.50" width="112.80" height="24.90" fill="#e2e2e2" />
<g clip-path="url(#cb29)">
<rect x="490.00" y="459.70" width="19.20" height="6.20" rx="2.60" fill="#000" fill-opacity="1.000" filter="url(#b1)"/>
<rect x="512.00" y="459.30" width="19.20" height="6.20" rx="2.60" fill="#000" fill-opacity="1.000" filter="url(#b1)"/>
<rect x="533.80" y="458.70" width="19.20" height="6.20" rx="2.60" fill="#000" fill-opacity="1.000" filter="url(#b1)"/>
<rect x="556.00" y="459.30" width="19.20" height="6.20" rx="2.60" fill="#000" fill-opacity="1.000" filter="url(#b1)"/>
</g>
<rect x="476.25" y="450.25" width="113.30" height="25.40" fill="none" stroke="#151515" stroke-width="1.5"/>
<text x="592.00" y="469.00" font-size="9.05" text-anchor="start" fill="#111" >AKT</text>
<rect x="469.90" y="471.80" width="6.60" height="4.20" fill="#111" />
<text x="469.10" y="476.40" font-size="7.1" text-anchor="end" fill="#111" >50</text>
<clipPath id="cb30"><rect x="475.70" y="482.90" width="111.60" height="22.80"/></clipPath>
<rect x="474.70" y="481.90" width="113.60" height="24.80" fill="#e2e2e2" />
<g clip-path="url(#cb30)">
<rect x="490.60" y="484.00" width="18.00" height="22.00" fill="#000" fill-opacity="0.060" filter="url(#b3)"/>
<rect x="512.60" y="484.00" width="18.00" height="22.00" fill="#000" fill-opacity="0.060" filter="url(#b3)"/>
<rect x="534.40" y="484.00" width="18.00" height="22.00" fill="#000" fill-opacity="0.060" filter="url(#b3)"/>
<rect x="556.60" y="484.00" width="18.00" height="22.00" fill="#000" fill-opacity="0.060" filter="url(#b3)"/>
<rect x="490.00" y="494.30" width="19.20" height="5.80" rx="2.60" fill="#000" fill-opacity="1.000" filter="url(#b1)"/>
<rect x="512.00" y="494.10" width="19.20" height="5.80" rx="2.60" fill="#000" fill-opacity="1.000" filter="url(#b1)"/>
<rect x="533.80" y="493.90" width="19.20" height="5.80" rx="2.60" fill="#000" fill-opacity="1.000" filter="url(#b1)"/>
<rect x="556.00" y="493.10" width="19.20" height="5.80" rx="2.60" fill="#000" fill-opacity="1.000" filter="url(#b1)"/>
</g>
<rect x="474.45" y="481.65" width="114.10" height="25.30" fill="none" stroke="#151515" stroke-width="1.5"/>
<text x="593.10" y="496.40" font-size="9.05" text-anchor="start" fill="#111" >p-c-MYC</text>
<rect x="468.10" y="482.80" width="6.60" height="4.20" fill="#111" />
<text x="467.30" y="487.40" font-size="7.1" text-anchor="end" fill="#111" >75</text>
<clipPath id="cb31"><rect x="475.70" y="513.30" width="111.60" height="22.70"/></clipPath>
<rect x="474.70" y="512.30" width="113.60" height="24.70" fill="#e2e2e2" />
<g clip-path="url(#cb31)">
<rect x="490.60" y="514.00" width="18.00" height="22.00" fill="#000" fill-opacity="0.060" filter="url(#b3)"/>
<rect x="512.60" y="514.00" width="18.00" height="22.00" fill="#000" fill-opacity="0.060" filter="url(#b3)"/>
<rect x="534.40" y="514.00" width="18.00" height="22.00" fill="#000" fill-opacity="0.060" filter="url(#b3)"/>
<rect x="556.60" y="514.00" width="18.00" height="22.00" fill="#000" fill-opacity="0.060" filter="url(#b3)"/>
<rect x="490.00" y="525.10" width="19.20" height="5.80" rx="2.60" fill="#000" fill-opacity="1.000" filter="url(#b1)"/>
<rect x="512.00" y="524.70" width="19.20" height="5.80" rx="2.60" fill="#000" fill-opacity="1.000" filter="url(#b1)"/>
<rect x="533.80" y="524.50" width="19.20" height="5.80" rx="2.60" fill="#000" fill-opacity="1.000" filter="url(#b1)"/>
<rect x="556.00" y="523.70" width="19.20" height="5.80" rx="2.60" fill="#000" fill-opacity="1.000" filter="url(#b1)"/>
</g>
<rect x="474.45" y="512.05" width="114.10" height="25.20" fill="none" stroke="#151515" stroke-width="1.5"/>
<text x="593.10" y="529.40" font-size="9.05" text-anchor="start" fill="#111" >c-MYC</text>
<rect x="468.10" y="512.60" width="6.60" height="4.20" fill="#111" />
<text x="467.30" y="517.20" font-size="7.1" text-anchor="end" fill="#111" >75</text>
<clipPath id="cb32"><rect x="477.50" y="545.30" width="110.80" height="22.30"/></clipPath>
<rect x="476.50" y="544.30" width="112.80" height="24.30" fill="#e2e2e2" />
<g clip-path="url(#cb32)">
<rect x="490.00" y="553.40" width="19.20" height="4.20" rx="2.10" fill="#000" fill-opacity="1.000" filter="url(#b1)"/>
<rect x="512.00" y="553.00" width="19.20" height="4.20" rx="2.10" fill="#000" fill-opacity="1.000" filter="url(#b1)"/>
<rect x="533.80" y="552.60" width="19.20" height="4.20" rx="2.10" fill="#000" fill-opacity="1.000" filter="url(#b1)"/>
<rect x="556.00" y="551.30" width="19.20" height="4.20" rx="2.10" fill="#000" fill-opacity="1.000" filter="url(#b1)"/>
<rect x="490.00" y="560.00" width="19.20" height="4.40" rx="2.20" fill="#000" fill-opacity="1.000" filter="url(#b1)"/>
<rect x="512.00" y="559.80" width="19.20" height="4.40" rx="2.20" fill="#000" fill-opacity="1.000" filter="url(#b1)"/>
<rect x="533.80" y="559.40" width="19.20" height="4.40" rx="2.20" fill="#000" fill-opacity="1.000" filter="url(#b1)"/>
<rect x="556.00" y="558.60" width="19.20" height="4.40" rx="2.20" fill="#000" fill-opacity="1.000" filter="url(#b1)"/>
</g>
<rect x="476.25" y="544.05" width="113.30" height="24.80" fill="none" stroke="#151515" stroke-width="1.5"/>
<text x="591.60" y="561.00" font-size="9.05" text-anchor="start" fill="#111" >p-ERK</text>
<rect x="469.90" y="548.40" width="6.60" height="4.20" fill="#111" />
<text x="469.10" y="553.00" font-size="7.1" text-anchor="end" fill="#111" >50</text>
<clipPath id="cb33"><rect x="477.50" y="575.00" width="110.80" height="22.30"/></clipPath>
<rect x="476.50" y="574.00" width="112.80" height="24.30" fill="#e2e2e2" />
<g clip-path="url(#cb33)">
<rect x="490.00" y="581.60" width="19.20" height="4.60" rx="2.30" fill="#000" fill-opacity="0.950" filter="url(#b1)"/>
<rect x="512.00" y="581.60" width="19.20" height="4.60" rx="2.30" fill="#000" fill-opacity="0.950" filter="url(#b1)"/>
<rect x="533.80" y="581.60" width="19.20" height="4.60" rx="2.30" fill="#000" fill-opacity="0.950" filter="url(#b1)"/>
<rect x="556.00" y="581.60" width="19.20" height="4.60" rx="2.30" fill="#000" fill-opacity="0.950" filter="url(#b1)"/>
<rect x="490.00" y="589.70" width="19.20" height="4.20" rx="2.10" fill="#000" fill-opacity="1.000" filter="url(#b1)"/>
<rect x="512.00" y="589.70" width="19.20" height="4.20" rx="2.10" fill="#000" fill-opacity="1.000" filter="url(#b1)"/>
<rect x="533.80" y="589.70" width="19.20" height="4.20" rx="2.10" fill="#000" fill-opacity="1.000" filter="url(#b1)"/>
<rect x="556.00" y="589.70" width="19.20" height="4.20" rx="2.10" fill="#000" fill-opacity="1.000" filter="url(#b1)"/>
</g>
<rect x="476.25" y="573.75" width="113.30" height="24.80" fill="none" stroke="#151515" stroke-width="1.5"/>
<text x="591.60" y="587.10" font-size="9.05" text-anchor="start" fill="#111" >ERK</text>
<rect x="469.90" y="576.70" width="6.60" height="4.20" fill="#111" />
<text x="469.10" y="581.30" font-size="7.1" text-anchor="end" fill="#111" >50</text>
<clipPath id="cb34"><rect x="477.50" y="605.10" width="110.80" height="22.50"/></clipPath>
<rect x="476.50" y="604.10" width="112.80" height="24.50" fill="#e2e2e2" />
<g clip-path="url(#cb34)">
<rect x="490.00" y="613.80" width="19.20" height="5.20" rx="2.60" fill="#000" fill-opacity="1.000" filter="url(#b1)"/>
<rect x="512.00" y="613.30" width="19.20" height="5.20" rx="2.60" fill="#000" fill-opacity="1.000" filter="url(#b1)"/>
<rect x="533.80" y="613.30" width="19.20" height="5.20" rx="2.60" fill="#000" fill-opacity="1.000" filter="url(#b1)"/>
<rect x="556.00" y="612.30" width="19.20" height="5.20" rx="2.60" fill="#000" fill-opacity="1.000" filter="url(#b1)"/>
</g>
<rect x="476.25" y="603.85" width="113.30" height="25.00" fill="none" stroke="#151515" stroke-width="1.5"/>
<text x="591.60" y="617.30" font-size="9.05" text-anchor="start" fill="#111" >p-S6</text>
<rect x="469.90" y="607.40" width="6.60" height="4.20" fill="#111" />
<text x="469.10" y="612.00" font-size="7.1" text-anchor="end" fill="#111" >37</text>
<clipPath id="cb35"><rect x="477.50" y="635.20" width="110.80" height="22.40"/></clipPath>
<rect x="476.50" y="634.20" width="112.80" height="24.40" fill="#e2e2e2" />
<g clip-path="url(#cb35)">
<rect x="490.00" y="643.70" width="19.20" height="5.60" rx="2.60" fill="#000" fill-opacity="1.000" filter="url(#b1)"/>
<rect x="512.00" y="643.70" width="19.20" height="5.60" rx="2.60" fill="#000" fill-opacity="1.000" filter="url(#b1)"/>
<rect x="533.80" y="644.00" width="19.20" height="5.60" rx="2.60" fill="#000" fill-opacity="1.000" filter="url(#b1)"/>
<rect x="556.00" y="644.30" width="19.20" height="5.60" rx="2.60" fill="#000" fill-opacity="1.000" filter="url(#b1)"/>
</g>
<rect x="476.25" y="633.95" width="113.30" height="24.90" fill="none" stroke="#151515" stroke-width="1.5"/>
<text x="591.60" y="646.80" font-size="9.05" text-anchor="start" fill="#111" >S6</text>
<rect x="469.90" y="635.50" width="6.60" height="4.20" fill="#111" />
<text x="469.10" y="640.10" font-size="7.1" text-anchor="end" fill="#111" >37</text>
<clipPath id="cb36"><rect x="477.50" y="665.40" width="110.80" height="21.40"/></clipPath>
<rect x="476.50" y="664.40" width="112.80" height="23.40" fill="#e2e2e2" />
<g clip-path="url(#cb36)">
<rect x="490.00" y="671.10" width="19.20" height="6.20" rx="2.60" fill="#000" fill-opacity="1.000" filter="url(#b1)"/>
<rect x="512.00" y="671.10" width="19.20" height="6.20" rx="2.60" fill="#000" fill-opacity="1.000" filter="url(#b1)"/>
<rect x="533.80" y="671.10" width="19.20" height="6.20" rx="2.60" fill="#000" fill-opacity="1.000" filter="url(#b1)"/>
<rect x="556.00" y="671.10" width="19.20" height="6.20" rx="2.60" fill="#000" fill-opacity="1.000" filter="url(#b1)"/>
<rect x="490.00" y="679.95" width="19.20" height="2.10" rx="1.05" fill="#000" fill-opacity="0.300" filter="url(#b1)"/>
<rect x="512.00" y="679.95" width="19.20" height="2.10" rx="1.05" fill="#000" fill-opacity="0.300" filter="url(#b1)"/>
<rect x="533.80" y="679.95" width="19.20" height="2.10" rx="1.05" fill="#000" fill-opacity="0.300" filter="url(#b1)"/>
<rect x="556.00" y="679.95" width="19.20" height="2.10" rx="1.05" fill="#000" fill-opacity="0.300" filter="url(#b1)"/>
</g>
<rect x="476.25" y="664.15" width="113.30" height="23.90" fill="none" stroke="#151515" stroke-width="1.5"/>
<text x="591.60" y="675.90" font-size="9.05" text-anchor="start" fill="#111" >Actin</text>
<rect x="469.90" y="677.60" width="6.60" height="4.20" fill="#111" />
<text x="469.10" y="682.20" font-size="7.1" text-anchor="end" fill="#111" >37</text>
<text x="71.60" y="732.40" font-size="9" text-anchor="middle" fill="#111" >M07e</text>
<text x="13.00" y="755.20" font-size="9.3" text-anchor="start" fill="#111" >JAK3:</text>
<line x1="47.90" y1="753.60" x2="49.90" y2="751.60" stroke="#111" stroke-width="1.1" />
<text x="0" y="0" font-size="9" fill="#111" transform="translate(69.50,756.00) rotate(-45)">WT</text>
<text x="0" y="0" font-size="9" fill="#111" transform="translate(92.00,756.00) rotate(-45)">Q988P</text>
<clipPath id="cb37"><rect x="33.50" y="762.00" width="76.90" height="22.60"/></clipPath>
<rect x="32.50" y="761.00" width="78.90" height="24.60" fill="#e2e2e2" />
<g clip-path="url(#cb37)">
<rect x="40.70" y="762.00" width="16.00" height="23.00" fill="#000" fill-opacity="0.050" filter="url(#b3)"/>
<rect x="61.60" y="762.00" width="16.00" height="23.00" fill="#000" fill-opacity="0.050" filter="url(#b3)"/>
<rect x="85.30" y="762.00" width="16.00" height="23.00" fill="#000" fill-opacity="0.050" filter="url(#b3)"/>
<rect x="40.70" y="773.35" width="16.00" height="5.70" rx="2.60" fill="#000" fill-opacity="0.820" filter="url(#b2)"/>
<rect x="62.10" y="773.35" width="15.00" height="5.70" rx="2.60" fill="#000" fill-opacity="0.750" filter="url(#b2)"/>
<rect x="83.25" y="768.55" width="20.50" height="11.70" rx="2.60" fill="#000" fill-opacity="1.000" filter="url(#b2)"/>
</g>
<rect x="32.25" y="760.75" width="79.40" height="25.10" fill="none" stroke="#151515" stroke-width="1.5"/>
<text x="114.80" y="776.30" font-size="9.05" text-anchor="start" fill="#111" >p-c-MYC</text>
<rect x="25.90" y="762.20" width="6.60" height="4.20" fill="#111" />
<text x="25.10" y="766.80" font-size="7.1" text-anchor="end" fill="#111" >kDa: 75</text>
<clipPath id="cb38"><rect x="33.50" y="792.00" width="76.90" height="22.90"/></clipPath>
<rect x="32.50" y="791.00" width="78.90" height="24.90" fill="#e2e2e2" />
<g clip-path="url(#cb38)">
<rect x="40.70" y="792.00" width="16.00" height="23.00" fill="#000" fill-opacity="0.040" filter="url(#b3)"/>
<rect x="61.60" y="792.00" width="16.00" height="23.00" fill="#000" fill-opacity="0.040" filter="url(#b3)"/>
<rect x="85.30" y="792.00" width="16.00" height="23.00" fill="#000" fill-opacity="0.040" filter="url(#b3)"/>
<rect x="41.20" y="803.55" width="15.00" height="5.70" rx="2.60" fill="#000" fill-opacity="0.750" filter="url(#b1)"/>
<rect x="62.60" y="803.55" width="14.00" height="5.70" rx="2.60" fill="#000" fill-opacity="0.700" filter="url(#b1)"/>
<rect x="84.30" y="801.80" width="18.00" height="9.20" rx="2.60" fill="#000" fill-opacity="1.000" filter="url(#b1)"/>
</g>
<rect x="32.25" y="790.75" width="79.40" height="25.40" fill="none" stroke="#151515" stroke-width="1.5"/>
<text x="114.80" y="806.10" font-size="9.05" text-anchor="start" fill="#111" >c-MYC</text>
<rect x="25.90" y="793.30" width="6.60" height="4.20" fill="#111" />
<text x="25.10" y="797.90" font-size="7.1" text-anchor="end" fill="#111" >75</text>
<clipPath id="cb39"><rect x="33.50" y="822.40" width="76.90" height="22.90"/></clipPath>
<rect x="32.50" y="821.40" width="78.90" height="24.90" fill="#e2e2e2" />
<g clip-path="url(#cb39)">
<rect x="41.20" y="833.70" width="15.00" height="2.80" rx="1.40" fill="#000" fill-opacity="0.220" filter="url(#b1)"/>
<rect x="62.60" y="833.70" width="14.00" height="2.80" rx="1.40" fill="#000" fill-opacity="0.250" filter="url(#b1)"/>
<rect x="83.80" y="831.50" width="19.00" height="7.20" rx="2.60" fill="#000" fill-opacity="1.000" filter="url(#b1)"/>
</g>
<rect x="32.25" y="821.15" width="79.40" height="25.40" fill="none" stroke="#151515" stroke-width="1.5"/>
<text x="114.80" y="836.60" font-size="9.05" text-anchor="start" fill="#111" >p-S6</text>
<rect x="25.90" y="825.80" width="6.60" height="4.20" fill="#111" />
<text x="25.10" y="830.40" font-size="7.1" text-anchor="end" fill="#111" >37</text>
<clipPath id="cb40"><rect x="33.50" y="852.80" width="76.90" height="22.80"/></clipPath>
<rect x="32.50" y="851.80" width="78.90" height="24.80" fill="#e2e2e2" />
<g clip-path="url(#cb40)">
<rect x="39.70" y="852.00" width="18.00" height="14.00" fill="#000" fill-opacity="0.060" filter="url(#b3)"/>
<rect x="60.60" y="852.00" width="18.00" height="14.00" fill="#000" fill-opacity="0.060" filter="url(#b3)"/>
<rect x="84.30" y="852.00" width="18.00" height="14.00" fill="#000" fill-opacity="0.060" filter="url(#b3)"/>
<rect x="35.45" y="865.10" width="23.50" height="7.00" rx="2.60" fill="#000" fill-opacity="1.000" filter="url(#b1)"/>
<rect x="58.10" y="865.10" width="23.00" height="7.00" rx="2.60" fill="#000" fill-opacity="1.000" filter="url(#b1)"/>
<rect x="82.75" y="865.10" width="23.50" height="7.00" rx="2.60" fill="#000" fill-opacity="1.000" filter="url(#b1)"/>
</g>
<rect x="32.25" y="851.55" width="79.40" height="25.30" fill="none" stroke="#151515" stroke-width="1.5"/>
<text x="114.80" y="866.70" font-size="9.05" text-anchor="start" fill="#111" >S6</text>
<rect x="25.90" y="857.30" width="6.60" height="4.20" fill="#111" />
<text x="25.10" y="861.90" font-size="7.1" text-anchor="end" fill="#111" >37</text>
<clipPath id="cb41"><rect x="33.50" y="883.10" width="76.90" height="22.90"/></clipPath>
<rect x="32.50" y="882.10" width="78.90" height="24.90" fill="#e2e2e2" />
<g clip-path="url(#cb41)">
<rect x="36.45" y="890.10" width="22.50" height="7.40" rx="2.60" fill="#000" fill-opacity="1.000" filter="url(#b1)"/>
<rect x="58.35" y="890.10" width="22.50" height="7.40" rx="2.60" fill="#000" fill-opacity="1.000" filter="url(#b1)"/>
<rect x="82.85" y="890.10" width="22.50" height="7.40" rx="2.60" fill="#000" fill-opacity="1.000" filter="url(#b1)"/>
</g>
<rect x="32.25" y="881.85" width="79.40" height="25.40" fill="none" stroke="#151515" stroke-width="1.5"/>
<text x="114.80" y="896.30" font-size="9.05" text-anchor="start" fill="#111" >Actin</text>
<rect x="25.90" y="898.90" width="6.60" height="4.20" fill="#111" />
<text x="25.10" y="903.50" font-size="7.1" text-anchor="end" fill="#111" >37</text>
<text x="227.00" y="735.30" font-size="9" text-anchor="middle" fill="#111" >Ba/F3</text>
<text x="167.90" y="758.90" font-size="9.2" text-anchor="start" fill="#111" >JAK3:</text>
<line x1="203.20" y1="757.80" x2="205.20" y2="755.80" stroke="#111" stroke-width="1.1" />
<text x="0" y="0" font-size="9" fill="#111" transform="translate(225.00,760.00) rotate(-45)">WT</text>
<text x="0" y="0" font-size="9" fill="#111" transform="translate(246.60,759.50) rotate(-45)">Q988P</text>
<text x="169.20" y="765.90" font-size="7.0" text-anchor="end" fill="#111" >kDa:</text>
<clipPath id="cb42"><rect x="188.40" y="765.70" width="76.90" height="22.30"/></clipPath>
<rect x="187.40" y="764.70" width="78.90" height="24.30" fill="#e2e2e2" />
<g clip-path="url(#cb42)">
<rect x="197.00" y="766.00" width="16.00" height="23.00" fill="#000" fill-opacity="0.040" filter="url(#b3)"/>
<rect x="219.00" y="766.00" width="16.00" height="23.00" fill="#000" fill-opacity="0.040" filter="url(#b3)"/>
<rect x="241.70" y="766.00" width="16.00" height="23.00" fill="#000" fill-opacity="0.040" filter="url(#b3)"/>
<rect x="197.50" y="776.15" width="15.00" height="5.70" rx="2.60" fill="#000" fill-opacity="0.720" filter="url(#b2)"/>
<rect x="219.50" y="776.15" width="15.00" height="5.70" rx="2.60" fill="#000" fill-opacity="0.720" filter="url(#b2)"/>
<rect x="240.20" y="773.90" width="19.00" height="10.20" rx="2.60" fill="#000" fill-opacity="1.000" filter="url(#b2)"/>
</g>
<rect x="187.15" y="764.45" width="79.40" height="24.80" fill="none" stroke="#151515" stroke-width="1.5"/>
<text x="269.80" y="780.30" font-size="9.05" text-anchor="start" fill="#111" >p-c-MYC</text>
<rect x="180.80" y="765.40" width="6.60" height="4.20" fill="#111" />
<text x="180.00" y="770.00" font-size="7.1" text-anchor="end" fill="#111" >75</text>
<clipPath id="cb43"><rect x="188.40" y="795.90" width="76.90" height="22.40"/></clipPath>
<rect x="187.40" y="794.90" width="78.90" height="24.40" fill="#e2e2e2" />
<g clip-path="url(#cb43)">
<rect x="197.00" y="796.00" width="16.00" height="23.00" fill="#000" fill-opacity="0.040" filter="url(#b3)"/>
<rect x="219.00" y="796.00" width="16.00" height="23.00" fill="#000" fill-opacity="0.040" filter="url(#b3)"/>
<rect x="241.70" y="796.00" width="16.00" height="23.00" fill="#000" fill-opacity="0.040" filter="url(#b3)"/>
<rect x="197.00" y="806.85" width="16.00" height="6.70" rx="2.60" fill="#000" fill-opacity="0.420" filter="url(#b2)"/>
<rect x="219.00" y="806.85" width="16.00" height="6.70" rx="2.60" fill="#000" fill-opacity="0.420" filter="url(#b2)"/>
<rect x="240.45" y="803.35" width="18.50" height="10.70" rx="2.60" fill="#000" fill-opacity="1.000" filter="url(#b2)"/>
</g>
<rect x="187.15" y="794.65" width="79.40" height="24.90" fill="none" stroke="#151515" stroke-width="1.5"/>
<text x="269.80" y="809.90" font-size="9.05" text-anchor="start" fill="#111" >c-MYC</text>
<rect x="180.80" y="794.80" width="6.60" height="4.20" fill="#111" />
<text x="180.00" y="799.40" font-size="7.1" text-anchor="end" fill="#111" >75</text>
<clipPath id="cb44"><rect x="190.10" y="826.20" width="76.30" height="22.40"/></clipPath>
<rect x="189.10" y="825.20" width="78.30" height="24.40" fill="#e2e2e2" />
<g clip-path="url(#cb44)">
<rect x="196.50" y="837.50" width="17.00" height="4.20" rx="2.10" fill="#000" fill-opacity="0.850" filter="url(#b1)"/>
<rect x="219.00" y="837.50" width="16.00" height="4.20" rx="2.10" fill="#000" fill-opacity="0.800" filter="url(#b1)"/>
<rect x="239.05" y="834.70" width="22.50" height="7.40" rx="2.60" fill="#000" fill-opacity="1.000" filter="url(#b1)"/>
</g>
<rect x="188.85" y="824.95" width="78.80" height="24.90" fill="none" stroke="#151515" stroke-width="1.5"/>
<text x="271.00" y="840.90" font-size="9.05" text-anchor="start" fill="#111" >p-S6</text>
<rect x="182.50" y="828.00" width="6.60" height="4.20" fill="#111" />
<text x="181.70" y="832.60" font-size="7.1" text-anchor="end" fill="#111" >37</text>
<clipPath id="cb45"><rect x="190.10" y="856.60" width="76.30" height="22.90"/></clipPath>
<rect x="189.10" y="855.60" width="78.30" height="24.90" fill="#e2e2e2" />
<g clip-path="url(#cb45)">
<rect x="196.00" y="856.00" width="18.00" height="14.00" fill="#000" fill-opacity="0.070" filter="url(#b3)"/>
<rect x="218.00" y="856.00" width="18.00" height="14.00" fill="#000" fill-opacity="0.070" filter="url(#b3)"/>
<rect x="240.70" y="856.00" width="18.00" height="14.00" fill="#000" fill-opacity="0.070" filter="url(#b3)"/>
<rect x="191.75" y="869.40" width="23.50" height="6.80" rx="2.60" fill="#000" fill-opacity="1.000" filter="url(#b1)"/>
<rect x="215.50" y="869.40" width="23.00" height="6.80" rx="2.60" fill="#000" fill-opacity="1.000" filter="url(#b1)"/>
<rect x="238.45" y="869.40" width="23.50" height="6.80" rx="2.60" fill="#000" fill-opacity="1.000" filter="url(#b1)"/>
<rect x="199.00" y="871.40" width="12.00" height="2.80" rx="1.40" fill="#000" fill-opacity="0.350" filter="url(#b2)"/>
<rect x="221.00" y="871.40" width="12.00" height="2.80" rx="1.40" fill="#000" fill-opacity="0.350" filter="url(#b2)"/>
<rect x="243.70" y="871.40" width="12.00" height="2.80" rx="1.40" fill="#000" fill-opacity="0.350" filter="url(#b2)"/>
</g>
<rect x="188.85" y="855.35" width="78.80" height="25.40" fill="none" stroke="#151515" stroke-width="1.5"/>
<text x="271.00" y="871.00" font-size="9.05" text-anchor="start" fill="#111" >S6</text>
<rect x="182.50" y="860.20" width="6.60" height="4.20" fill="#111" />
<text x="181.70" y="864.80" font-size="7.1" text-anchor="end" fill="#111" >37</text>
<clipPath id="cb46"><rect x="190.10" y="887.00" width="76.30" height="22.80"/></clipPath>
<rect x="189.10" y="886.00" width="78.30" height="24.80" fill="#e2e2e2" />
<g clip-path="url(#cb46)">
<rect x="190.00" y="894.50" width="26.00" height="7.00" rx="2.60" fill="#000" fill-opacity="1.000" filter="url(#b1)"/>
<rect x="214.50" y="894.50" width="25.00" height="7.00" rx="2.60" fill="#000" fill-opacity="1.000" filter="url(#b1)"/>
<rect x="239.20" y="894.50" width="27.00" height="7.00" rx="2.60" fill="#000" fill-opacity="1.000" filter="url(#b1)"/>
</g>
<rect x="188.85" y="885.75" width="78.80" height="25.30" fill="none" stroke="#151515" stroke-width="1.5"/>
<text x="271.00" y="899.40" font-size="9.05" text-anchor="start" fill="#111" >Actin</text>
<rect x="182.50" y="902.70" width="6.60" height="4.20" fill="#111" />
<text x="181.70" y="907.30" font-size="7.1" text-anchor="end" fill="#111" >37</text>
</g>
</svg>
</body></html>
